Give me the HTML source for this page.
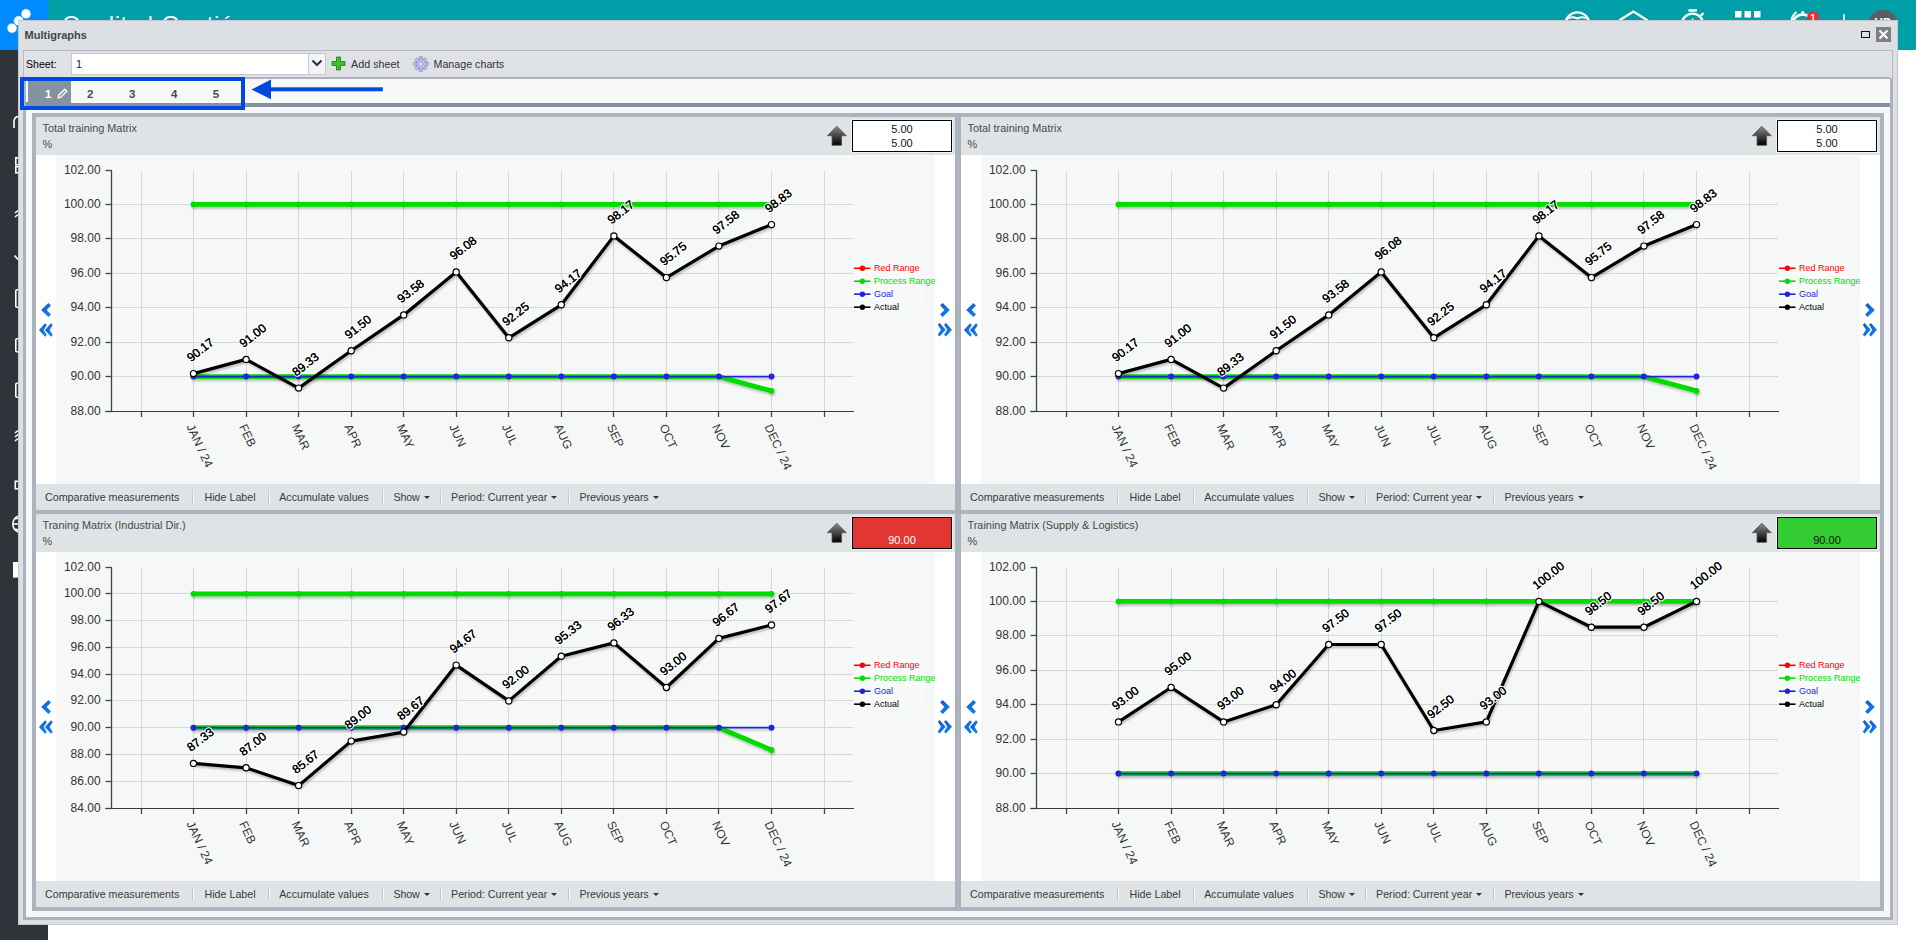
<!DOCTYPE html><html><head><meta charset="utf-8"><title>Multigraphs</title><style>
*{margin:0;padding:0;box-sizing:border-box}
html,body{width:1916px;height:940px;overflow:hidden;background:#fff;font-family:"Liberation Sans", sans-serif}
.abs{position:absolute}
.ct{position:absolute;font-size:10.9px;color:#484848;white-space:nowrap;line-height:13px}
.vbox{position:absolute;left:816px;top:3px;width:100px;height:32px;border:1px solid #000;font-size:11px;text-align:center;line-height:14px;padding-top:1px;box-shadow:0 0 0 1px #eef1f3}
.ft{position:absolute;top:373px;font-size:10.7px;color:#3a3a3a;white-space:nowrap;line-height:14px}
.fsep{position:absolute;top:373px;width:1px;height:14px;background:#c3c8cd;box-shadow:1px 0 0 #f4f5f6}
.car{display:inline-block;width:0;height:0;border-left:3px solid transparent;border-right:3px solid transparent;border-top:3px solid #333;margin-left:4px;vertical-align:2px}
svg text{font-family:"Liberation Sans", sans-serif}
</style></head><body>
<div class="abs" style="left:0;top:50px;width:48px;height:890px;background:#2f343b"></div>
<svg class="abs" style="left:0;top:0" width="48" height="940"><g fill="none" stroke="#fff" stroke-width="1.6">
<path d="M14,128 L14,121 Q14.5,116.5 19,116.5"/>
<rect x="15.8" y="157.8" width="5" height="7"/><rect x="15.8" y="166.8" width="5" height="6"/>
<path d="M15,213 L18,210.5 M15,217 L18,214.5"/>
<path d="M14.5,255.5 L18,259.5"/>
<rect x="15.8" y="289.8" width="5" height="17.5" rx="1"/>
<rect x="15.8" y="338.8" width="5" height="13" rx="1"/>
<rect x="15.8" y="383.3" width="5" height="14" rx="1"/>
<path d="M15,433 L18,430.5 M15,437 L18,434.5 M15,441 L18,438.5"/>
<rect x="15.3" y="481.3" width="5" height="7.5"/>
<circle cx="21.5" cy="524" r="8.7"/><path d="M12.8,524 L19,524 M15,518.5 L19,518.5 M15,529.5 L19,529.5"/>
</g><rect x="13" y="562" width="6" height="15.6" fill="#fff"/></svg>
<div class="abs" style="left:0;top:0;width:48px;height:50px;background:#008aff"></div>
<svg class="abs" style="left:0;top:0" width="48" height="50"><g fill="#fff" stroke="#008aff" stroke-width="0.8"><circle cx="26" cy="13.8" r="5.1"/><circle cx="18.7" cy="20.8" r="5.1"/><circle cx="12" cy="28.2" r="5.1"/></g></svg>
<div class="abs" style="left:48px;top:0;width:1868px;height:50px;background:#009ea6"></div>
<div class="abs" style="left:62px;top:11.3px;font-size:24px;color:#fff;white-space:nowrap;letter-spacing:0.5px">Quality | Gestión</div>
<svg class="abs" style="left:1550px;top:0" width="366" height="50">
<g fill="none" stroke="#fff" stroke-width="2.3">
<circle cx="27.4" cy="24.4" r="12"/>
<path d="M16,19.5 Q21,15.5 27.4,18.5 Q33.8,15.5 38.8,19.5" stroke-width="2"/>
<path d="M69.1,20.5 L83.4,11.6 L97.7,20.5"/>
<circle cx="142.5" cy="24.5" r="10.8"/>
<path d="M150.5,16 L153.5,13" />
</g>
<g fill="#fff"><rect x="138.4" y="9.2" width="8.6" height="2.5"/><rect x="141.8" y="18.5" width="1.6" height="3"/>
<rect x="185" y="11" width="6.5" height="6.5"/><rect x="194.5" y="11" width="6.5" height="6.5"/><rect x="204" y="11" width="6.5" height="6.5"/>
<rect x="293.2" y="14.2" width="1.6" height="7"/></g>
<path d="M241.5,21 A14,14 0 0 1 246.5,12" fill="none" stroke="#fff" stroke-width="2.2"/>
<circle cx="252.7" cy="24.5" r="10" fill="none" stroke="#fff" stroke-width="2.3"/>
<circle cx="252.7" cy="12.5" r="1.6" fill="#fff"/>
<circle cx="263" cy="17.4" r="6" fill="#ee2a2a"/><text x="263" y="21.5" font-size="10" fill="#fff" text-anchor="middle" font-family="Liberation Sans" font-weight="bold">1</text>
<circle cx="332.9" cy="24.5" r="14.6" fill="#5a5d63"/>
<text x="332.9" y="26.5" font-size="12" font-weight="bold" fill="#fff" text-anchor="middle" font-family="Liberation Sans">HD</text>
</svg>
<div class="abs" style="left:18px;top:20px;width:1880px;height:905px;background:#dcdfe3;border:1px solid #c4c8cd"></div>
<div class="abs" style="left:24.6px;top:29.2px;font-size:11px;font-weight:bold;color:#454545;white-space:nowrap">Multigraphs</div>
<div class="abs" style="left:1861px;top:31px;width:9px;height:7px;border:1.5px solid #111"></div>
<div class="abs" style="left:1876px;top:27px;width:15px;height:15px;background:#808080"></div>
<svg class="abs" style="left:1876px;top:27px" width="15" height="15"><path d="M3.5,3.5 L11.5,11.5 M11.5,3.5 L3.5,11.5" stroke="#fff" stroke-width="2.1"/></svg>
<div class="abs" style="left:23px;top:50px;width:1870px;height:870px;background:#dfe1e5;border:1px solid #b3b9c0"></div>
<div class="abs" style="left:26px;top:58px;font-size:10.6px;color:#000;white-space:nowrap">Sheet:</div>
<div class="abs" style="left:71px;top:53px;width:255px;height:22px;background:#fff;border:1px solid #c5c9ce"></div>
<div class="abs" style="left:76px;top:58px;font-size:11px;color:#222">1</div>
<div class="abs" style="left:308px;top:53px;width:18px;height:22px;background:#f3f4f5;border:1px solid #c5c9ce"></div>
<svg class="abs" style="left:310px;top:58px" width="14" height="10"><path d="M2.5,2.5 L7,7 L11.5,2.5" fill="none" stroke="#333" stroke-width="2.2"/></svg>
<svg class="abs" style="left:331px;top:56px" width="16" height="16"><path d="M5.5,1 h4 v4.5 h4.5 v4 h-4.5 v4.5 h-4 v-4.5 h-4.5 v-4 h4.5 z" fill="#3fbf2a" stroke="#1f8a17" stroke-width="0.9"/></svg>
<div class="abs" style="left:351px;top:58px;font-size:10.8px;color:#333;white-space:nowrap">Add sheet</div>
<svg class="abs" style="left:413px;top:56px" width="16" height="16"><g transform="translate(8,8)"><circle r="5.5" fill="#c0c4e8" stroke="#8890c8" stroke-width="1"/><rect x="-1.6" y="-7.3" width="3.2" height="3" fill="#b8bce4" stroke="#8890c8" stroke-width="0.6" transform="rotate(0)"/><rect x="-1.6" y="-7.3" width="3.2" height="3" fill="#b8bce4" stroke="#8890c8" stroke-width="0.6" transform="rotate(45)"/><rect x="-1.6" y="-7.3" width="3.2" height="3" fill="#b8bce4" stroke="#8890c8" stroke-width="0.6" transform="rotate(90)"/><rect x="-1.6" y="-7.3" width="3.2" height="3" fill="#b8bce4" stroke="#8890c8" stroke-width="0.6" transform="rotate(135)"/><rect x="-1.6" y="-7.3" width="3.2" height="3" fill="#b8bce4" stroke="#8890c8" stroke-width="0.6" transform="rotate(180)"/><rect x="-1.6" y="-7.3" width="3.2" height="3" fill="#b8bce4" stroke="#8890c8" stroke-width="0.6" transform="rotate(225)"/><rect x="-1.6" y="-7.3" width="3.2" height="3" fill="#b8bce4" stroke="#8890c8" stroke-width="0.6" transform="rotate(270)"/><rect x="-1.6" y="-7.3" width="3.2" height="3" fill="#b8bce4" stroke="#8890c8" stroke-width="0.6" transform="rotate(315)"/><circle r="2" fill="#eef" stroke="#8890c8" stroke-width="0.8"/></g></svg>
<div class="abs" style="left:433.5px;top:58px;font-size:10.7px;color:#333;white-space:nowrap">Manage charts</div>
<div class="abs" style="left:24px;top:77px;width:1866px;height:30px;background:#f7f8f8;border-top:2px solid #acb3bc;border-bottom:4px solid #8592a0"></div>
<div class="abs" style="left:24px;top:79px;width:47px;height:24px;background:#8593a1"></div>
<div class="abs" style="left:26px;top:81px;width:2px;height:21px;background:#fff"></div>
<div class="abs" style="left:45px;top:88px;font-size:11.5px;font-weight:bold;color:#fff">1</div>
<svg class="abs" style="left:57px;top:88px" width="11" height="11"><path d="M1.2,9.8 L1.8,7.2 L7.8,1.2 L9.8,3.2 L3.8,9.2 Z" fill="none" stroke="#fff" stroke-width="1.3"/></svg>
<div class="abs" style="left:86.9px;top:88px;font-size:11.5px;font-weight:bold;color:#4a4a4a">2</div>
<div class="abs" style="left:128.9px;top:88px;font-size:11.5px;font-weight:bold;color:#4a4a4a">3</div>
<div class="abs" style="left:170.9px;top:88px;font-size:11.5px;font-weight:bold;color:#4a4a4a">4</div>
<div class="abs" style="left:212.8px;top:88px;font-size:11.5px;font-weight:bold;color:#4a4a4a">5</div>
<div class="abs" style="left:24px;top:107px;width:1866px;height:810px;background:#f6f8f8"></div>
<div class="abs" style="left:23px;top:917px;width:1870px;height:3px;background:#acb3bc"></div>
<div class="abs" style="left:23px;top:78px;width:3px;height:842px;background:#acb3bc"></div>
<div class="abs" style="left:1890px;top:78px;width:3px;height:842px;background:#acb3bc"></div>
<div class="abs" style="left:32px;top:113px;width:1852px;height:798px;background:#acb3bc"></div>
<div class="abs" style="left:36px;top:117px;width:919px;height:393px;overflow:hidden">
<svg width="919" height="393" viewBox="0 0 919 393" style="position:absolute;left:0;top:0">
<defs><filter id="sh" x="-5%" y="-20%" width="110%" height="140%"><feGaussianBlur in="SourceAlpha" stdDeviation="1"/><feOffset dx="1" dy="1.5"/><feComponentTransfer><feFuncA type="linear" slope="0.25"/></feComponentTransfer><feMerge><feMergeNode/><feMergeNode in="SourceGraphic"/></feMerge></filter></defs>
<rect x="0" y="0" width="919" height="38" fill="#e0e3e6"/>
<rect x="0" y="38" width="919" height="329" fill="#ffffff"/>
<rect x="20" y="38" width="879" height="329" fill="#f6f8f8"/>
<rect x="0" y="367" width="919" height="26" fill="#e0e3e6"/>
<line x1="69.5" y1="294.5" x2="75.5" y2="294.5" stroke="#444" stroke-width="1.3"/>
<text x="64.6" y="297.9" text-anchor="end" font-size="12" fill="#333">88.00</text>
<line x1="75.5" y1="259.5" x2="817" y2="259.5" stroke="#d6d6d6" stroke-width="1"/>
<line x1="69.5" y1="259.5" x2="75.5" y2="259.5" stroke="#444" stroke-width="1.3"/>
<text x="64.6" y="262.9" text-anchor="end" font-size="12" fill="#333">90.00</text>
<line x1="75.5" y1="225.5" x2="817" y2="225.5" stroke="#d6d6d6" stroke-width="1"/>
<line x1="69.5" y1="225.5" x2="75.5" y2="225.5" stroke="#444" stroke-width="1.3"/>
<text x="64.6" y="228.9" text-anchor="end" font-size="12" fill="#333">92.00</text>
<line x1="75.5" y1="190.5" x2="817" y2="190.5" stroke="#d6d6d6" stroke-width="1"/>
<line x1="69.5" y1="190.5" x2="75.5" y2="190.5" stroke="#444" stroke-width="1.3"/>
<text x="64.6" y="193.9" text-anchor="end" font-size="12" fill="#333">94.00</text>
<line x1="75.5" y1="156.5" x2="817" y2="156.5" stroke="#d6d6d6" stroke-width="1"/>
<line x1="69.5" y1="156.5" x2="75.5" y2="156.5" stroke="#444" stroke-width="1.3"/>
<text x="64.6" y="159.9" text-anchor="end" font-size="12" fill="#333">96.00</text>
<line x1="75.5" y1="121.5" x2="817" y2="121.5" stroke="#d6d6d6" stroke-width="1"/>
<line x1="69.5" y1="121.5" x2="75.5" y2="121.5" stroke="#444" stroke-width="1.3"/>
<text x="64.6" y="124.9" text-anchor="end" font-size="12" fill="#333">98.00</text>
<line x1="75.5" y1="87.5" x2="817" y2="87.5" stroke="#d6d6d6" stroke-width="1"/>
<line x1="69.5" y1="87.5" x2="75.5" y2="87.5" stroke="#444" stroke-width="1.3"/>
<text x="64.6" y="90.9" text-anchor="end" font-size="12" fill="#333">100.00</text>
<line x1="69.5" y1="53.5" x2="75.5" y2="53.5" stroke="#444" stroke-width="1.3"/>
<text x="64.6" y="56.9" text-anchor="end" font-size="12" fill="#333">102.00</text>
<line x1="105.5" y1="54.0" x2="105.5" y2="294.0" stroke="#d6d6d6" stroke-width="1"/>
<line x1="105.5" y1="294.0" x2="105.5" y2="300.0" stroke="#444" stroke-width="1.3"/>
<line x1="157.5" y1="54.0" x2="157.5" y2="294.0" stroke="#d6d6d6" stroke-width="1"/>
<line x1="157.5" y1="294.0" x2="157.5" y2="300.0" stroke="#444" stroke-width="1.3"/>
<line x1="210.5" y1="54.0" x2="210.5" y2="294.0" stroke="#d6d6d6" stroke-width="1"/>
<line x1="210.5" y1="294.0" x2="210.5" y2="300.0" stroke="#444" stroke-width="1.3"/>
<line x1="262.5" y1="54.0" x2="262.5" y2="294.0" stroke="#d6d6d6" stroke-width="1"/>
<line x1="262.5" y1="294.0" x2="262.5" y2="300.0" stroke="#444" stroke-width="1.3"/>
<line x1="315.5" y1="54.0" x2="315.5" y2="294.0" stroke="#d6d6d6" stroke-width="1"/>
<line x1="315.5" y1="294.0" x2="315.5" y2="300.0" stroke="#444" stroke-width="1.3"/>
<line x1="367.5" y1="54.0" x2="367.5" y2="294.0" stroke="#d6d6d6" stroke-width="1"/>
<line x1="367.5" y1="294.0" x2="367.5" y2="300.0" stroke="#444" stroke-width="1.3"/>
<line x1="420.5" y1="54.0" x2="420.5" y2="294.0" stroke="#d6d6d6" stroke-width="1"/>
<line x1="420.5" y1="294.0" x2="420.5" y2="300.0" stroke="#444" stroke-width="1.3"/>
<line x1="472.5" y1="54.0" x2="472.5" y2="294.0" stroke="#d6d6d6" stroke-width="1"/>
<line x1="472.5" y1="294.0" x2="472.5" y2="300.0" stroke="#444" stroke-width="1.3"/>
<line x1="525.5" y1="54.0" x2="525.5" y2="294.0" stroke="#d6d6d6" stroke-width="1"/>
<line x1="525.5" y1="294.0" x2="525.5" y2="300.0" stroke="#444" stroke-width="1.3"/>
<line x1="577.5" y1="54.0" x2="577.5" y2="294.0" stroke="#d6d6d6" stroke-width="1"/>
<line x1="577.5" y1="294.0" x2="577.5" y2="300.0" stroke="#444" stroke-width="1.3"/>
<line x1="630.5" y1="54.0" x2="630.5" y2="294.0" stroke="#d6d6d6" stroke-width="1"/>
<line x1="630.5" y1="294.0" x2="630.5" y2="300.0" stroke="#444" stroke-width="1.3"/>
<line x1="682.5" y1="54.0" x2="682.5" y2="294.0" stroke="#d6d6d6" stroke-width="1"/>
<line x1="682.5" y1="294.0" x2="682.5" y2="300.0" stroke="#444" stroke-width="1.3"/>
<line x1="735.5" y1="54.0" x2="735.5" y2="294.0" stroke="#d6d6d6" stroke-width="1"/>
<line x1="735.5" y1="294.0" x2="735.5" y2="300.0" stroke="#444" stroke-width="1.3"/>
<line x1="788.5" y1="54.0" x2="788.5" y2="294.0" stroke="#d6d6d6" stroke-width="1"/>
<line x1="788.5" y1="294.0" x2="788.5" y2="300.0" stroke="#444" stroke-width="1.3"/>
<line x1="75.5" y1="53.0" x2="75.5" y2="294.5" stroke="#444" stroke-width="1.3"/>
<line x1="69.5" y1="294.5" x2="818" y2="294.5" stroke="#3a3a3a" stroke-width="1.2"/>
<text transform="translate(150.3,309.6) rotate(65)" font-size="12" fill="#333">JAN / 24</text>
<text transform="translate(202.9,309.6) rotate(65)" font-size="12" fill="#333">FEB</text>
<text transform="translate(255.4,309.6) rotate(65)" font-size="12" fill="#333">MAR</text>
<text transform="translate(308.0,309.6) rotate(65)" font-size="12" fill="#333">APR</text>
<text transform="translate(360.5,309.6) rotate(65)" font-size="12" fill="#333">MAY</text>
<text transform="translate(413.0,309.6) rotate(65)" font-size="12" fill="#333">JUN</text>
<text transform="translate(465.6,309.6) rotate(65)" font-size="12" fill="#333">JUL</text>
<text transform="translate(518.1,309.6) rotate(65)" font-size="12" fill="#333">AUG</text>
<text transform="translate(570.7,309.6) rotate(65)" font-size="12" fill="#333">SEP</text>
<text transform="translate(623.2,309.6) rotate(65)" font-size="12" fill="#333">OCT</text>
<text transform="translate(675.7,309.6) rotate(65)" font-size="12" fill="#333">NOV</text>
<text transform="translate(728.3,309.6) rotate(65)" font-size="12" fill="#333">DEC / 24</text>
<g filter="url(#sh)">
<path d="M157.5,87.4 L210.1,87.4 L262.6,87.4 L315.2,87.4 L367.7,87.4 L420.2,87.4 L472.8,87.4 L525.3,87.4 L577.9,87.4 L630.4,87.4 L682.9,87.4 L735.5,87.4" fill="none" stroke="#00dc00" stroke-width="4.8" stroke-linecap="round" stroke-linejoin="round"/>
<path d="M157.5,259.6 L210.1,259.6 L262.6,259.6 L315.2,259.6 L367.7,259.6 L420.2,259.6 L472.8,259.6 L525.3,259.6 L577.9,259.6 L630.4,259.6 L682.9,259.6 L735.5,273.9" fill="none" stroke="#00dc00" stroke-width="4.8" stroke-linecap="round" stroke-linejoin="round"/>
<path d="M157.5,259.6 L210.1,259.6 L262.6,259.6 L315.2,259.6 L367.7,259.6 L420.2,259.6 L472.8,259.6 L525.3,259.6 L577.9,259.6 L630.4,259.6 L682.9,259.6 L735.5,259.6" fill="none" stroke="#2323dd" stroke-width="1.7" stroke-linejoin="round"/>
<circle cx="157.5" cy="87.4" r="2.9" fill="#00dc00"/>
<circle cx="210.1" cy="87.4" r="2.9" fill="#00dc00"/>
<circle cx="262.6" cy="87.4" r="2.9" fill="#00dc00"/>
<circle cx="315.2" cy="87.4" r="2.9" fill="#00dc00"/>
<circle cx="367.7" cy="87.4" r="2.9" fill="#00dc00"/>
<circle cx="420.2" cy="87.4" r="2.9" fill="#00dc00"/>
<circle cx="472.8" cy="87.4" r="2.9" fill="#00dc00"/>
<circle cx="525.3" cy="87.4" r="2.9" fill="#00dc00"/>
<circle cx="577.9" cy="87.4" r="2.9" fill="#00dc00"/>
<circle cx="630.4" cy="87.4" r="2.9" fill="#00dc00"/>
<circle cx="682.9" cy="87.4" r="2.9" fill="#00dc00"/>
<circle cx="735.5" cy="87.4" r="2.9" fill="#00dc00"/>
<circle cx="157.5" cy="259.6" r="2.9" fill="#00dc00"/>
<circle cx="210.1" cy="259.6" r="2.9" fill="#00dc00"/>
<circle cx="262.6" cy="259.6" r="2.9" fill="#00dc00"/>
<circle cx="315.2" cy="259.6" r="2.9" fill="#00dc00"/>
<circle cx="367.7" cy="259.6" r="2.9" fill="#00dc00"/>
<circle cx="420.2" cy="259.6" r="2.9" fill="#00dc00"/>
<circle cx="472.8" cy="259.6" r="2.9" fill="#00dc00"/>
<circle cx="525.3" cy="259.6" r="2.9" fill="#00dc00"/>
<circle cx="577.9" cy="259.6" r="2.9" fill="#00dc00"/>
<circle cx="630.4" cy="259.6" r="2.9" fill="#00dc00"/>
<circle cx="682.9" cy="259.6" r="2.9" fill="#00dc00"/>
<circle cx="735.5" cy="273.9" r="2.9" fill="#00dc00"/>
</g>
<circle cx="157.5" cy="259.6" r="3" fill="#2323dd"/>
<circle cx="210.1" cy="259.6" r="3" fill="#2323dd"/>
<circle cx="262.6" cy="259.6" r="3" fill="#2323dd"/>
<circle cx="315.2" cy="259.6" r="3" fill="#2323dd"/>
<circle cx="367.7" cy="259.6" r="3" fill="#2323dd"/>
<circle cx="420.2" cy="259.6" r="3" fill="#2323dd"/>
<circle cx="472.8" cy="259.6" r="3" fill="#2323dd"/>
<circle cx="525.3" cy="259.6" r="3" fill="#2323dd"/>
<circle cx="577.9" cy="259.6" r="3" fill="#2323dd"/>
<circle cx="630.4" cy="259.6" r="3" fill="#2323dd"/>
<circle cx="682.9" cy="259.6" r="3" fill="#2323dd"/>
<circle cx="735.5" cy="259.6" r="3" fill="#2323dd"/>
<path d="M157.5,256.6 L210.1,242.4 L262.6,271.1 L315.2,233.8 L367.7,197.9 L420.2,154.9 L472.8,220.8 L525.3,187.8 L577.9,118.9 L630.4,160.6 L682.9,129.1 L735.5,107.6" fill="none" stroke="#000" stroke-width="3.2" stroke-linejoin="round" filter="url(#sh)"/>
<circle cx="157.5" cy="256.6" r="3.1" fill="#fff" stroke="#000" stroke-width="1.2"/>
<circle cx="210.1" cy="242.4" r="3.1" fill="#fff" stroke="#000" stroke-width="1.2"/>
<circle cx="262.6" cy="271.1" r="3.1" fill="#fff" stroke="#000" stroke-width="1.2"/>
<circle cx="315.2" cy="233.8" r="3.1" fill="#fff" stroke="#000" stroke-width="1.2"/>
<circle cx="367.7" cy="197.9" r="3.1" fill="#fff" stroke="#000" stroke-width="1.2"/>
<circle cx="420.2" cy="154.9" r="3.1" fill="#fff" stroke="#000" stroke-width="1.2"/>
<circle cx="472.8" cy="220.8" r="3.1" fill="#fff" stroke="#000" stroke-width="1.2"/>
<circle cx="525.3" cy="187.8" r="3.1" fill="#fff" stroke="#000" stroke-width="1.2"/>
<circle cx="577.9" cy="118.9" r="3.1" fill="#fff" stroke="#000" stroke-width="1.2"/>
<circle cx="630.4" cy="160.6" r="3.1" fill="#fff" stroke="#000" stroke-width="1.2"/>
<circle cx="682.9" cy="129.1" r="3.1" fill="#fff" stroke="#000" stroke-width="1.2"/>
<circle cx="735.5" cy="107.6" r="3.1" fill="#fff" stroke="#000" stroke-width="1.2"/>
<text transform="translate(152.41,241.89) rotate(-38)" dy="0.36em" font-size="12" fill="#000" stroke="#fff" stroke-width="2.4" paint-order="stroke" stroke-linejoin="round">90.17</text>
<text transform="translate(152.41,241.89) rotate(-38)" dy="0.36em" font-size="12" fill="#000" stroke="#000" stroke-width="0.12">90.17</text>
<text transform="translate(204.95,227.60) rotate(-38)" dy="0.36em" font-size="12" fill="#000" stroke="#fff" stroke-width="2.4" paint-order="stroke" stroke-linejoin="round">91.00</text>
<text transform="translate(204.95,227.60) rotate(-38)" dy="0.36em" font-size="12" fill="#000" stroke="#000" stroke-width="0.12">91.00</text>
<text transform="translate(257.49,256.35) rotate(-38)" dy="0.36em" font-size="12" fill="#000" stroke="#fff" stroke-width="2.4" paint-order="stroke" stroke-linejoin="round">89.33</text>
<text transform="translate(257.49,256.35) rotate(-38)" dy="0.36em" font-size="12" fill="#000" stroke="#000" stroke-width="0.12">89.33</text>
<text transform="translate(310.03,218.99) rotate(-38)" dy="0.36em" font-size="12" fill="#000" stroke="#fff" stroke-width="2.4" paint-order="stroke" stroke-linejoin="round">91.50</text>
<text transform="translate(310.03,218.99) rotate(-38)" dy="0.36em" font-size="12" fill="#000" stroke="#000" stroke-width="0.12">91.50</text>
<text transform="translate(362.57,183.19) rotate(-38)" dy="0.36em" font-size="12" fill="#000" stroke="#fff" stroke-width="2.4" paint-order="stroke" stroke-linejoin="round">93.58</text>
<text transform="translate(362.57,183.19) rotate(-38)" dy="0.36em" font-size="12" fill="#000" stroke="#000" stroke-width="0.12">93.58</text>
<text transform="translate(415.11,140.15) rotate(-38)" dy="0.36em" font-size="12" fill="#000" stroke="#fff" stroke-width="2.4" paint-order="stroke" stroke-linejoin="round">96.08</text>
<text transform="translate(415.11,140.15) rotate(-38)" dy="0.36em" font-size="12" fill="#000" stroke="#000" stroke-width="0.12">96.08</text>
<text transform="translate(467.65,206.08) rotate(-38)" dy="0.36em" font-size="12" fill="#000" stroke="#fff" stroke-width="2.4" paint-order="stroke" stroke-linejoin="round">92.25</text>
<text transform="translate(467.65,206.08) rotate(-38)" dy="0.36em" font-size="12" fill="#000" stroke="#000" stroke-width="0.12">92.25</text>
<text transform="translate(520.19,173.03) rotate(-38)" dy="0.36em" font-size="12" fill="#000" stroke="#fff" stroke-width="2.4" paint-order="stroke" stroke-linejoin="round">94.17</text>
<text transform="translate(520.19,173.03) rotate(-38)" dy="0.36em" font-size="12" fill="#000" stroke="#000" stroke-width="0.12">94.17</text>
<text transform="translate(572.73,104.17) rotate(-38)" dy="0.36em" font-size="12" fill="#000" stroke="#fff" stroke-width="2.4" paint-order="stroke" stroke-linejoin="round">98.17</text>
<text transform="translate(572.73,104.17) rotate(-38)" dy="0.36em" font-size="12" fill="#000" stroke="#000" stroke-width="0.12">98.17</text>
<text transform="translate(625.27,145.83) rotate(-38)" dy="0.36em" font-size="12" fill="#000" stroke="#fff" stroke-width="2.4" paint-order="stroke" stroke-linejoin="round">95.75</text>
<text transform="translate(625.27,145.83) rotate(-38)" dy="0.36em" font-size="12" fill="#000" stroke="#000" stroke-width="0.12">95.75</text>
<text transform="translate(677.81,114.33) rotate(-38)" dy="0.36em" font-size="12" fill="#000" stroke="#fff" stroke-width="2.4" paint-order="stroke" stroke-linejoin="round">97.58</text>
<text transform="translate(677.81,114.33) rotate(-38)" dy="0.36em" font-size="12" fill="#000" stroke="#000" stroke-width="0.12">97.58</text>
<text transform="translate(730.35,92.81) rotate(-38)" dy="0.36em" font-size="12" fill="#000" stroke="#fff" stroke-width="2.4" paint-order="stroke" stroke-linejoin="round">98.83</text>
<text transform="translate(730.35,92.81) rotate(-38)" dy="0.36em" font-size="12" fill="#000" stroke="#000" stroke-width="0.12">98.83</text>
<rect x="817" y="143.4" width="71.7" height="51.4" fill="#ffffff" fill-opacity="0.25"/>
<line x1="818" y1="151.3" x2="834.5" y2="151.3" stroke="#ff0000" stroke-width="1.6"/>
<circle cx="826.4" cy="151.3" r="2.7" fill="#ff0000"/>
<text x="838" y="153.9" font-size="9" fill="#ff0000">Red Range</text>
<line x1="818" y1="164.2" x2="834.5" y2="164.2" stroke="#00dd00" stroke-width="1.6"/>
<circle cx="826.4" cy="164.2" r="2.7" fill="#00dd00"/>
<text x="838" y="166.8" font-size="9" fill="#00dd00">Process Range</text>
<line x1="818" y1="177.2" x2="834.5" y2="177.2" stroke="#2222dd" stroke-width="1.6"/>
<circle cx="826.4" cy="177.2" r="2.7" fill="#2222dd"/>
<text x="838" y="179.8" font-size="9" fill="#2222dd">Goal</text>
<line x1="818" y1="190.2" x2="834.5" y2="190.2" stroke="#000000" stroke-width="1.6"/>
<circle cx="826.4" cy="190.2" r="2.7" fill="#000000"/>
<text x="838" y="192.8" font-size="9" fill="#000000">Actual</text>
<rect x="899" y="38" width="20" height="329" fill="#ffffff"/>
<defs><linearGradient id="navg" x1="0" y1="0" x2="1" y2="1"><stop offset="0" stop-color="#1a55c4"/><stop offset="1" stop-color="#0a8cff"/></linearGradient></defs>
<polygon points="5.20,193.00 12.40,186.00 15.00,188.40 10.70,193.00 15.00,197.60 12.40,200.00" fill="url(#navg)"/>
<polygon points="3.00,213.00 9.10,206.20 10.90,208.00 7.70,213.00 10.90,218.00 9.10,219.80" fill="url(#navg)"/>
<polygon points="8.90,213.00 15.00,206.20 16.80,208.00 13.60,213.00 16.80,218.00 15.00,219.80" fill="url(#navg)"/>
<polygon points="913.90,192.90 906.70,185.90 904.10,188.30 908.40,192.90 904.10,197.50 906.70,199.90" fill="url(#navg)"/>
<polygon points="909.70,212.80 903.60,206.00 901.80,207.80 905.00,212.80 901.80,217.80 903.60,219.60" fill="url(#navg)"/>
<polygon points="916.00,212.80 909.90,206.00 908.10,207.80 911.30,212.80 908.10,217.80 909.90,219.60" fill="url(#navg)"/>
</svg>
<div class="ct" style="left:6.5px;top:5px">Total training Matrix</div>
<div class="ct" style="left:6.5px;top:21px">%</div>
<svg class="uparr" width="22" height="22" viewBox="0 0 22 22" style="position:absolute;left:790px;top:8px"><defs><linearGradient id="ag" x1="0" y1="0" x2="0" y2="1"><stop offset="0" stop-color="#8a8a8a"/><stop offset="1" stop-color="#000"/></linearGradient></defs><path d="M10.8,1.2 L20.3,10.7 L15.6,10.7 L15.6,20.3 L6,20.3 L6,10.7 L1.3,10.7 Z" fill="url(#ag)" stroke="#555" stroke-width="0.8"/></svg>
<div class="vbox" style="background:#fff;color:#111"><div>5.00</div><div>5.00</div></div>
<div class="ft" style="left:9px;letter-spacing:0px">Comparative measurements</div>
<div class="fsep" style="left:156.3px"></div>
<div class="ft" style="left:168.5px;letter-spacing:0px">Hide Label</div>
<div class="fsep" style="left:231.5px"></div>
<div class="ft" style="left:243.2px;letter-spacing:0px">Accumulate values</div>
<div class="fsep" style="left:345.7px"></div>
<div class="ft" style="left:357.4px;letter-spacing:-0.1px">Show<span class=car></span></div>
<div class="fsep" style="left:403.8px"></div>
<div class="ft" style="left:415px;letter-spacing:0px">Period: Current year<span class=car></span></div>
<div class="fsep" style="left:531.9px"></div>
<div class="ft" style="left:543.6px;letter-spacing:-0.12px">Previous years<span class=car></span></div>
</div>
<div class="abs" style="left:961px;top:117px;width:919px;height:393px;overflow:hidden">
<svg width="919" height="393" viewBox="0 0 919 393" style="position:absolute;left:0;top:0">
<defs><filter id="sh" x="-5%" y="-20%" width="110%" height="140%"><feGaussianBlur in="SourceAlpha" stdDeviation="1"/><feOffset dx="1" dy="1.5"/><feComponentTransfer><feFuncA type="linear" slope="0.25"/></feComponentTransfer><feMerge><feMergeNode/><feMergeNode in="SourceGraphic"/></feMerge></filter></defs>
<rect x="0" y="0" width="919" height="38" fill="#e0e3e6"/>
<rect x="0" y="38" width="919" height="329" fill="#ffffff"/>
<rect x="20" y="38" width="879" height="329" fill="#f6f8f8"/>
<rect x="0" y="367" width="919" height="26" fill="#e0e3e6"/>
<line x1="69.5" y1="294.5" x2="75.5" y2="294.5" stroke="#444" stroke-width="1.3"/>
<text x="64.6" y="297.9" text-anchor="end" font-size="12" fill="#333">88.00</text>
<line x1="75.5" y1="259.5" x2="817" y2="259.5" stroke="#d6d6d6" stroke-width="1"/>
<line x1="69.5" y1="259.5" x2="75.5" y2="259.5" stroke="#444" stroke-width="1.3"/>
<text x="64.6" y="262.9" text-anchor="end" font-size="12" fill="#333">90.00</text>
<line x1="75.5" y1="225.5" x2="817" y2="225.5" stroke="#d6d6d6" stroke-width="1"/>
<line x1="69.5" y1="225.5" x2="75.5" y2="225.5" stroke="#444" stroke-width="1.3"/>
<text x="64.6" y="228.9" text-anchor="end" font-size="12" fill="#333">92.00</text>
<line x1="75.5" y1="190.5" x2="817" y2="190.5" stroke="#d6d6d6" stroke-width="1"/>
<line x1="69.5" y1="190.5" x2="75.5" y2="190.5" stroke="#444" stroke-width="1.3"/>
<text x="64.6" y="193.9" text-anchor="end" font-size="12" fill="#333">94.00</text>
<line x1="75.5" y1="156.5" x2="817" y2="156.5" stroke="#d6d6d6" stroke-width="1"/>
<line x1="69.5" y1="156.5" x2="75.5" y2="156.5" stroke="#444" stroke-width="1.3"/>
<text x="64.6" y="159.9" text-anchor="end" font-size="12" fill="#333">96.00</text>
<line x1="75.5" y1="121.5" x2="817" y2="121.5" stroke="#d6d6d6" stroke-width="1"/>
<line x1="69.5" y1="121.5" x2="75.5" y2="121.5" stroke="#444" stroke-width="1.3"/>
<text x="64.6" y="124.9" text-anchor="end" font-size="12" fill="#333">98.00</text>
<line x1="75.5" y1="87.5" x2="817" y2="87.5" stroke="#d6d6d6" stroke-width="1"/>
<line x1="69.5" y1="87.5" x2="75.5" y2="87.5" stroke="#444" stroke-width="1.3"/>
<text x="64.6" y="90.9" text-anchor="end" font-size="12" fill="#333">100.00</text>
<line x1="69.5" y1="53.5" x2="75.5" y2="53.5" stroke="#444" stroke-width="1.3"/>
<text x="64.6" y="56.9" text-anchor="end" font-size="12" fill="#333">102.00</text>
<line x1="105.5" y1="54.0" x2="105.5" y2="294.0" stroke="#d6d6d6" stroke-width="1"/>
<line x1="105.5" y1="294.0" x2="105.5" y2="300.0" stroke="#444" stroke-width="1.3"/>
<line x1="157.5" y1="54.0" x2="157.5" y2="294.0" stroke="#d6d6d6" stroke-width="1"/>
<line x1="157.5" y1="294.0" x2="157.5" y2="300.0" stroke="#444" stroke-width="1.3"/>
<line x1="210.5" y1="54.0" x2="210.5" y2="294.0" stroke="#d6d6d6" stroke-width="1"/>
<line x1="210.5" y1="294.0" x2="210.5" y2="300.0" stroke="#444" stroke-width="1.3"/>
<line x1="262.5" y1="54.0" x2="262.5" y2="294.0" stroke="#d6d6d6" stroke-width="1"/>
<line x1="262.5" y1="294.0" x2="262.5" y2="300.0" stroke="#444" stroke-width="1.3"/>
<line x1="315.5" y1="54.0" x2="315.5" y2="294.0" stroke="#d6d6d6" stroke-width="1"/>
<line x1="315.5" y1="294.0" x2="315.5" y2="300.0" stroke="#444" stroke-width="1.3"/>
<line x1="367.5" y1="54.0" x2="367.5" y2="294.0" stroke="#d6d6d6" stroke-width="1"/>
<line x1="367.5" y1="294.0" x2="367.5" y2="300.0" stroke="#444" stroke-width="1.3"/>
<line x1="420.5" y1="54.0" x2="420.5" y2="294.0" stroke="#d6d6d6" stroke-width="1"/>
<line x1="420.5" y1="294.0" x2="420.5" y2="300.0" stroke="#444" stroke-width="1.3"/>
<line x1="472.5" y1="54.0" x2="472.5" y2="294.0" stroke="#d6d6d6" stroke-width="1"/>
<line x1="472.5" y1="294.0" x2="472.5" y2="300.0" stroke="#444" stroke-width="1.3"/>
<line x1="525.5" y1="54.0" x2="525.5" y2="294.0" stroke="#d6d6d6" stroke-width="1"/>
<line x1="525.5" y1="294.0" x2="525.5" y2="300.0" stroke="#444" stroke-width="1.3"/>
<line x1="577.5" y1="54.0" x2="577.5" y2="294.0" stroke="#d6d6d6" stroke-width="1"/>
<line x1="577.5" y1="294.0" x2="577.5" y2="300.0" stroke="#444" stroke-width="1.3"/>
<line x1="630.5" y1="54.0" x2="630.5" y2="294.0" stroke="#d6d6d6" stroke-width="1"/>
<line x1="630.5" y1="294.0" x2="630.5" y2="300.0" stroke="#444" stroke-width="1.3"/>
<line x1="682.5" y1="54.0" x2="682.5" y2="294.0" stroke="#d6d6d6" stroke-width="1"/>
<line x1="682.5" y1="294.0" x2="682.5" y2="300.0" stroke="#444" stroke-width="1.3"/>
<line x1="735.5" y1="54.0" x2="735.5" y2="294.0" stroke="#d6d6d6" stroke-width="1"/>
<line x1="735.5" y1="294.0" x2="735.5" y2="300.0" stroke="#444" stroke-width="1.3"/>
<line x1="788.5" y1="54.0" x2="788.5" y2="294.0" stroke="#d6d6d6" stroke-width="1"/>
<line x1="788.5" y1="294.0" x2="788.5" y2="300.0" stroke="#444" stroke-width="1.3"/>
<line x1="75.5" y1="53.0" x2="75.5" y2="294.5" stroke="#444" stroke-width="1.3"/>
<line x1="69.5" y1="294.5" x2="818" y2="294.5" stroke="#3a3a3a" stroke-width="1.2"/>
<text transform="translate(150.3,309.6) rotate(65)" font-size="12" fill="#333">JAN / 24</text>
<text transform="translate(202.9,309.6) rotate(65)" font-size="12" fill="#333">FEB</text>
<text transform="translate(255.4,309.6) rotate(65)" font-size="12" fill="#333">MAR</text>
<text transform="translate(308.0,309.6) rotate(65)" font-size="12" fill="#333">APR</text>
<text transform="translate(360.5,309.6) rotate(65)" font-size="12" fill="#333">MAY</text>
<text transform="translate(413.0,309.6) rotate(65)" font-size="12" fill="#333">JUN</text>
<text transform="translate(465.6,309.6) rotate(65)" font-size="12" fill="#333">JUL</text>
<text transform="translate(518.1,309.6) rotate(65)" font-size="12" fill="#333">AUG</text>
<text transform="translate(570.7,309.6) rotate(65)" font-size="12" fill="#333">SEP</text>
<text transform="translate(623.2,309.6) rotate(65)" font-size="12" fill="#333">OCT</text>
<text transform="translate(675.7,309.6) rotate(65)" font-size="12" fill="#333">NOV</text>
<text transform="translate(728.3,309.6) rotate(65)" font-size="12" fill="#333">DEC / 24</text>
<g filter="url(#sh)">
<path d="M157.5,87.4 L210.1,87.4 L262.6,87.4 L315.2,87.4 L367.7,87.4 L420.2,87.4 L472.8,87.4 L525.3,87.4 L577.9,87.4 L630.4,87.4 L682.9,87.4 L735.5,87.4" fill="none" stroke="#00dc00" stroke-width="4.8" stroke-linecap="round" stroke-linejoin="round"/>
<path d="M157.5,259.6 L210.1,259.6 L262.6,259.6 L315.2,259.6 L367.7,259.6 L420.2,259.6 L472.8,259.6 L525.3,259.6 L577.9,259.6 L630.4,259.6 L682.9,259.6 L735.5,273.9" fill="none" stroke="#00dc00" stroke-width="4.8" stroke-linecap="round" stroke-linejoin="round"/>
<path d="M157.5,259.6 L210.1,259.6 L262.6,259.6 L315.2,259.6 L367.7,259.6 L420.2,259.6 L472.8,259.6 L525.3,259.6 L577.9,259.6 L630.4,259.6 L682.9,259.6 L735.5,259.6" fill="none" stroke="#2323dd" stroke-width="1.7" stroke-linejoin="round"/>
<circle cx="157.5" cy="87.4" r="2.9" fill="#00dc00"/>
<circle cx="210.1" cy="87.4" r="2.9" fill="#00dc00"/>
<circle cx="262.6" cy="87.4" r="2.9" fill="#00dc00"/>
<circle cx="315.2" cy="87.4" r="2.9" fill="#00dc00"/>
<circle cx="367.7" cy="87.4" r="2.9" fill="#00dc00"/>
<circle cx="420.2" cy="87.4" r="2.9" fill="#00dc00"/>
<circle cx="472.8" cy="87.4" r="2.9" fill="#00dc00"/>
<circle cx="525.3" cy="87.4" r="2.9" fill="#00dc00"/>
<circle cx="577.9" cy="87.4" r="2.9" fill="#00dc00"/>
<circle cx="630.4" cy="87.4" r="2.9" fill="#00dc00"/>
<circle cx="682.9" cy="87.4" r="2.9" fill="#00dc00"/>
<circle cx="735.5" cy="87.4" r="2.9" fill="#00dc00"/>
<circle cx="157.5" cy="259.6" r="2.9" fill="#00dc00"/>
<circle cx="210.1" cy="259.6" r="2.9" fill="#00dc00"/>
<circle cx="262.6" cy="259.6" r="2.9" fill="#00dc00"/>
<circle cx="315.2" cy="259.6" r="2.9" fill="#00dc00"/>
<circle cx="367.7" cy="259.6" r="2.9" fill="#00dc00"/>
<circle cx="420.2" cy="259.6" r="2.9" fill="#00dc00"/>
<circle cx="472.8" cy="259.6" r="2.9" fill="#00dc00"/>
<circle cx="525.3" cy="259.6" r="2.9" fill="#00dc00"/>
<circle cx="577.9" cy="259.6" r="2.9" fill="#00dc00"/>
<circle cx="630.4" cy="259.6" r="2.9" fill="#00dc00"/>
<circle cx="682.9" cy="259.6" r="2.9" fill="#00dc00"/>
<circle cx="735.5" cy="273.9" r="2.9" fill="#00dc00"/>
</g>
<circle cx="157.5" cy="259.6" r="3" fill="#2323dd"/>
<circle cx="210.1" cy="259.6" r="3" fill="#2323dd"/>
<circle cx="262.6" cy="259.6" r="3" fill="#2323dd"/>
<circle cx="315.2" cy="259.6" r="3" fill="#2323dd"/>
<circle cx="367.7" cy="259.6" r="3" fill="#2323dd"/>
<circle cx="420.2" cy="259.6" r="3" fill="#2323dd"/>
<circle cx="472.8" cy="259.6" r="3" fill="#2323dd"/>
<circle cx="525.3" cy="259.6" r="3" fill="#2323dd"/>
<circle cx="577.9" cy="259.6" r="3" fill="#2323dd"/>
<circle cx="630.4" cy="259.6" r="3" fill="#2323dd"/>
<circle cx="682.9" cy="259.6" r="3" fill="#2323dd"/>
<circle cx="735.5" cy="259.6" r="3" fill="#2323dd"/>
<path d="M157.5,256.6 L210.1,242.4 L262.6,271.1 L315.2,233.8 L367.7,197.9 L420.2,154.9 L472.8,220.8 L525.3,187.8 L577.9,118.9 L630.4,160.6 L682.9,129.1 L735.5,107.6" fill="none" stroke="#000" stroke-width="3.2" stroke-linejoin="round" filter="url(#sh)"/>
<circle cx="157.5" cy="256.6" r="3.1" fill="#fff" stroke="#000" stroke-width="1.2"/>
<circle cx="210.1" cy="242.4" r="3.1" fill="#fff" stroke="#000" stroke-width="1.2"/>
<circle cx="262.6" cy="271.1" r="3.1" fill="#fff" stroke="#000" stroke-width="1.2"/>
<circle cx="315.2" cy="233.8" r="3.1" fill="#fff" stroke="#000" stroke-width="1.2"/>
<circle cx="367.7" cy="197.9" r="3.1" fill="#fff" stroke="#000" stroke-width="1.2"/>
<circle cx="420.2" cy="154.9" r="3.1" fill="#fff" stroke="#000" stroke-width="1.2"/>
<circle cx="472.8" cy="220.8" r="3.1" fill="#fff" stroke="#000" stroke-width="1.2"/>
<circle cx="525.3" cy="187.8" r="3.1" fill="#fff" stroke="#000" stroke-width="1.2"/>
<circle cx="577.9" cy="118.9" r="3.1" fill="#fff" stroke="#000" stroke-width="1.2"/>
<circle cx="630.4" cy="160.6" r="3.1" fill="#fff" stroke="#000" stroke-width="1.2"/>
<circle cx="682.9" cy="129.1" r="3.1" fill="#fff" stroke="#000" stroke-width="1.2"/>
<circle cx="735.5" cy="107.6" r="3.1" fill="#fff" stroke="#000" stroke-width="1.2"/>
<text transform="translate(152.41,241.89) rotate(-38)" dy="0.36em" font-size="12" fill="#000" stroke="#fff" stroke-width="2.4" paint-order="stroke" stroke-linejoin="round">90.17</text>
<text transform="translate(152.41,241.89) rotate(-38)" dy="0.36em" font-size="12" fill="#000" stroke="#000" stroke-width="0.12">90.17</text>
<text transform="translate(204.95,227.60) rotate(-38)" dy="0.36em" font-size="12" fill="#000" stroke="#fff" stroke-width="2.4" paint-order="stroke" stroke-linejoin="round">91.00</text>
<text transform="translate(204.95,227.60) rotate(-38)" dy="0.36em" font-size="12" fill="#000" stroke="#000" stroke-width="0.12">91.00</text>
<text transform="translate(257.49,256.35) rotate(-38)" dy="0.36em" font-size="12" fill="#000" stroke="#fff" stroke-width="2.4" paint-order="stroke" stroke-linejoin="round">89.33</text>
<text transform="translate(257.49,256.35) rotate(-38)" dy="0.36em" font-size="12" fill="#000" stroke="#000" stroke-width="0.12">89.33</text>
<text transform="translate(310.03,218.99) rotate(-38)" dy="0.36em" font-size="12" fill="#000" stroke="#fff" stroke-width="2.4" paint-order="stroke" stroke-linejoin="round">91.50</text>
<text transform="translate(310.03,218.99) rotate(-38)" dy="0.36em" font-size="12" fill="#000" stroke="#000" stroke-width="0.12">91.50</text>
<text transform="translate(362.57,183.19) rotate(-38)" dy="0.36em" font-size="12" fill="#000" stroke="#fff" stroke-width="2.4" paint-order="stroke" stroke-linejoin="round">93.58</text>
<text transform="translate(362.57,183.19) rotate(-38)" dy="0.36em" font-size="12" fill="#000" stroke="#000" stroke-width="0.12">93.58</text>
<text transform="translate(415.11,140.15) rotate(-38)" dy="0.36em" font-size="12" fill="#000" stroke="#fff" stroke-width="2.4" paint-order="stroke" stroke-linejoin="round">96.08</text>
<text transform="translate(415.11,140.15) rotate(-38)" dy="0.36em" font-size="12" fill="#000" stroke="#000" stroke-width="0.12">96.08</text>
<text transform="translate(467.65,206.08) rotate(-38)" dy="0.36em" font-size="12" fill="#000" stroke="#fff" stroke-width="2.4" paint-order="stroke" stroke-linejoin="round">92.25</text>
<text transform="translate(467.65,206.08) rotate(-38)" dy="0.36em" font-size="12" fill="#000" stroke="#000" stroke-width="0.12">92.25</text>
<text transform="translate(520.19,173.03) rotate(-38)" dy="0.36em" font-size="12" fill="#000" stroke="#fff" stroke-width="2.4" paint-order="stroke" stroke-linejoin="round">94.17</text>
<text transform="translate(520.19,173.03) rotate(-38)" dy="0.36em" font-size="12" fill="#000" stroke="#000" stroke-width="0.12">94.17</text>
<text transform="translate(572.73,104.17) rotate(-38)" dy="0.36em" font-size="12" fill="#000" stroke="#fff" stroke-width="2.4" paint-order="stroke" stroke-linejoin="round">98.17</text>
<text transform="translate(572.73,104.17) rotate(-38)" dy="0.36em" font-size="12" fill="#000" stroke="#000" stroke-width="0.12">98.17</text>
<text transform="translate(625.27,145.83) rotate(-38)" dy="0.36em" font-size="12" fill="#000" stroke="#fff" stroke-width="2.4" paint-order="stroke" stroke-linejoin="round">95.75</text>
<text transform="translate(625.27,145.83) rotate(-38)" dy="0.36em" font-size="12" fill="#000" stroke="#000" stroke-width="0.12">95.75</text>
<text transform="translate(677.81,114.33) rotate(-38)" dy="0.36em" font-size="12" fill="#000" stroke="#fff" stroke-width="2.4" paint-order="stroke" stroke-linejoin="round">97.58</text>
<text transform="translate(677.81,114.33) rotate(-38)" dy="0.36em" font-size="12" fill="#000" stroke="#000" stroke-width="0.12">97.58</text>
<text transform="translate(730.35,92.81) rotate(-38)" dy="0.36em" font-size="12" fill="#000" stroke="#fff" stroke-width="2.4" paint-order="stroke" stroke-linejoin="round">98.83</text>
<text transform="translate(730.35,92.81) rotate(-38)" dy="0.36em" font-size="12" fill="#000" stroke="#000" stroke-width="0.12">98.83</text>
<rect x="817" y="143.4" width="71.7" height="51.4" fill="#ffffff" fill-opacity="0.25"/>
<line x1="818" y1="151.3" x2="834.5" y2="151.3" stroke="#ff0000" stroke-width="1.6"/>
<circle cx="826.4" cy="151.3" r="2.7" fill="#ff0000"/>
<text x="838" y="153.9" font-size="9" fill="#ff0000">Red Range</text>
<line x1="818" y1="164.2" x2="834.5" y2="164.2" stroke="#00dd00" stroke-width="1.6"/>
<circle cx="826.4" cy="164.2" r="2.7" fill="#00dd00"/>
<text x="838" y="166.8" font-size="9" fill="#00dd00">Process Range</text>
<line x1="818" y1="177.2" x2="834.5" y2="177.2" stroke="#2222dd" stroke-width="1.6"/>
<circle cx="826.4" cy="177.2" r="2.7" fill="#2222dd"/>
<text x="838" y="179.8" font-size="9" fill="#2222dd">Goal</text>
<line x1="818" y1="190.2" x2="834.5" y2="190.2" stroke="#000000" stroke-width="1.6"/>
<circle cx="826.4" cy="190.2" r="2.7" fill="#000000"/>
<text x="838" y="192.8" font-size="9" fill="#000000">Actual</text>
<rect x="899" y="38" width="20" height="329" fill="#ffffff"/>
<defs><linearGradient id="navg" x1="0" y1="0" x2="1" y2="1"><stop offset="0" stop-color="#1a55c4"/><stop offset="1" stop-color="#0a8cff"/></linearGradient></defs>
<polygon points="5.20,193.00 12.40,186.00 15.00,188.40 10.70,193.00 15.00,197.60 12.40,200.00" fill="url(#navg)"/>
<polygon points="3.00,213.00 9.10,206.20 10.90,208.00 7.70,213.00 10.90,218.00 9.10,219.80" fill="url(#navg)"/>
<polygon points="8.90,213.00 15.00,206.20 16.80,208.00 13.60,213.00 16.80,218.00 15.00,219.80" fill="url(#navg)"/>
<polygon points="913.90,192.90 906.70,185.90 904.10,188.30 908.40,192.90 904.10,197.50 906.70,199.90" fill="url(#navg)"/>
<polygon points="909.70,212.80 903.60,206.00 901.80,207.80 905.00,212.80 901.80,217.80 903.60,219.60" fill="url(#navg)"/>
<polygon points="916.00,212.80 909.90,206.00 908.10,207.80 911.30,212.80 908.10,217.80 909.90,219.60" fill="url(#navg)"/>
</svg>
<div class="ct" style="left:6.5px;top:5px">Total training Matrix</div>
<div class="ct" style="left:6.5px;top:21px">%</div>
<svg class="uparr" width="22" height="22" viewBox="0 0 22 22" style="position:absolute;left:790px;top:8px"><defs><linearGradient id="ag" x1="0" y1="0" x2="0" y2="1"><stop offset="0" stop-color="#8a8a8a"/><stop offset="1" stop-color="#000"/></linearGradient></defs><path d="M10.8,1.2 L20.3,10.7 L15.6,10.7 L15.6,20.3 L6,20.3 L6,10.7 L1.3,10.7 Z" fill="url(#ag)" stroke="#555" stroke-width="0.8"/></svg>
<div class="vbox" style="background:#fff;color:#111"><div>5.00</div><div>5.00</div></div>
<div class="ft" style="left:9px;letter-spacing:0px">Comparative measurements</div>
<div class="fsep" style="left:156.3px"></div>
<div class="ft" style="left:168.5px;letter-spacing:0px">Hide Label</div>
<div class="fsep" style="left:231.5px"></div>
<div class="ft" style="left:243.2px;letter-spacing:0px">Accumulate values</div>
<div class="fsep" style="left:345.7px"></div>
<div class="ft" style="left:357.4px;letter-spacing:-0.1px">Show<span class=car></span></div>
<div class="fsep" style="left:403.8px"></div>
<div class="ft" style="left:415px;letter-spacing:0px">Period: Current year<span class=car></span></div>
<div class="fsep" style="left:531.9px"></div>
<div class="ft" style="left:543.6px;letter-spacing:-0.12px">Previous years<span class=car></span></div>
</div>
<div class="abs" style="left:36px;top:514px;width:919px;height:393px;overflow:hidden">
<svg width="919" height="393" viewBox="0 0 919 393" style="position:absolute;left:0;top:0">
<defs><filter id="sh" x="-5%" y="-20%" width="110%" height="140%"><feGaussianBlur in="SourceAlpha" stdDeviation="1"/><feOffset dx="1" dy="1.5"/><feComponentTransfer><feFuncA type="linear" slope="0.25"/></feComponentTransfer><feMerge><feMergeNode/><feMergeNode in="SourceGraphic"/></feMerge></filter></defs>
<rect x="0" y="0" width="919" height="38" fill="#e0e3e6"/>
<rect x="0" y="38" width="919" height="329" fill="#ffffff"/>
<rect x="20" y="38" width="879" height="329" fill="#f6f8f8"/>
<rect x="0" y="367" width="919" height="26" fill="#e0e3e6"/>
<line x1="69.5" y1="294.5" x2="75.5" y2="294.5" stroke="#444" stroke-width="1.3"/>
<text x="64.6" y="297.9" text-anchor="end" font-size="12" fill="#333">84.00</text>
<line x1="75.5" y1="267.5" x2="817" y2="267.5" stroke="#d6d6d6" stroke-width="1"/>
<line x1="69.5" y1="267.5" x2="75.5" y2="267.5" stroke="#444" stroke-width="1.3"/>
<text x="64.6" y="270.9" text-anchor="end" font-size="12" fill="#333">86.00</text>
<line x1="75.5" y1="240.5" x2="817" y2="240.5" stroke="#d6d6d6" stroke-width="1"/>
<line x1="69.5" y1="240.5" x2="75.5" y2="240.5" stroke="#444" stroke-width="1.3"/>
<text x="64.6" y="243.9" text-anchor="end" font-size="12" fill="#333">88.00</text>
<line x1="75.5" y1="213.5" x2="817" y2="213.5" stroke="#d6d6d6" stroke-width="1"/>
<line x1="69.5" y1="213.5" x2="75.5" y2="213.5" stroke="#444" stroke-width="1.3"/>
<text x="64.6" y="216.9" text-anchor="end" font-size="12" fill="#333">90.00</text>
<line x1="75.5" y1="186.5" x2="817" y2="186.5" stroke="#d6d6d6" stroke-width="1"/>
<line x1="69.5" y1="186.5" x2="75.5" y2="186.5" stroke="#444" stroke-width="1.3"/>
<text x="64.6" y="189.9" text-anchor="end" font-size="12" fill="#333">92.00</text>
<line x1="75.5" y1="160.5" x2="817" y2="160.5" stroke="#d6d6d6" stroke-width="1"/>
<line x1="69.5" y1="160.5" x2="75.5" y2="160.5" stroke="#444" stroke-width="1.3"/>
<text x="64.6" y="163.9" text-anchor="end" font-size="12" fill="#333">94.00</text>
<line x1="75.5" y1="133.5" x2="817" y2="133.5" stroke="#d6d6d6" stroke-width="1"/>
<line x1="69.5" y1="133.5" x2="75.5" y2="133.5" stroke="#444" stroke-width="1.3"/>
<text x="64.6" y="136.9" text-anchor="end" font-size="12" fill="#333">96.00</text>
<line x1="75.5" y1="106.5" x2="817" y2="106.5" stroke="#d6d6d6" stroke-width="1"/>
<line x1="69.5" y1="106.5" x2="75.5" y2="106.5" stroke="#444" stroke-width="1.3"/>
<text x="64.6" y="109.9" text-anchor="end" font-size="12" fill="#333">98.00</text>
<line x1="75.5" y1="79.5" x2="817" y2="79.5" stroke="#d6d6d6" stroke-width="1"/>
<line x1="69.5" y1="79.5" x2="75.5" y2="79.5" stroke="#444" stroke-width="1.3"/>
<text x="64.6" y="82.9" text-anchor="end" font-size="12" fill="#333">100.00</text>
<line x1="69.5" y1="53.5" x2="75.5" y2="53.5" stroke="#444" stroke-width="1.3"/>
<text x="64.6" y="56.9" text-anchor="end" font-size="12" fill="#333">102.00</text>
<line x1="105.5" y1="54.0" x2="105.5" y2="294.0" stroke="#d6d6d6" stroke-width="1"/>
<line x1="105.5" y1="294.0" x2="105.5" y2="300.0" stroke="#444" stroke-width="1.3"/>
<line x1="157.5" y1="54.0" x2="157.5" y2="294.0" stroke="#d6d6d6" stroke-width="1"/>
<line x1="157.5" y1="294.0" x2="157.5" y2="300.0" stroke="#444" stroke-width="1.3"/>
<line x1="210.5" y1="54.0" x2="210.5" y2="294.0" stroke="#d6d6d6" stroke-width="1"/>
<line x1="210.5" y1="294.0" x2="210.5" y2="300.0" stroke="#444" stroke-width="1.3"/>
<line x1="262.5" y1="54.0" x2="262.5" y2="294.0" stroke="#d6d6d6" stroke-width="1"/>
<line x1="262.5" y1="294.0" x2="262.5" y2="300.0" stroke="#444" stroke-width="1.3"/>
<line x1="315.5" y1="54.0" x2="315.5" y2="294.0" stroke="#d6d6d6" stroke-width="1"/>
<line x1="315.5" y1="294.0" x2="315.5" y2="300.0" stroke="#444" stroke-width="1.3"/>
<line x1="367.5" y1="54.0" x2="367.5" y2="294.0" stroke="#d6d6d6" stroke-width="1"/>
<line x1="367.5" y1="294.0" x2="367.5" y2="300.0" stroke="#444" stroke-width="1.3"/>
<line x1="420.5" y1="54.0" x2="420.5" y2="294.0" stroke="#d6d6d6" stroke-width="1"/>
<line x1="420.5" y1="294.0" x2="420.5" y2="300.0" stroke="#444" stroke-width="1.3"/>
<line x1="472.5" y1="54.0" x2="472.5" y2="294.0" stroke="#d6d6d6" stroke-width="1"/>
<line x1="472.5" y1="294.0" x2="472.5" y2="300.0" stroke="#444" stroke-width="1.3"/>
<line x1="525.5" y1="54.0" x2="525.5" y2="294.0" stroke="#d6d6d6" stroke-width="1"/>
<line x1="525.5" y1="294.0" x2="525.5" y2="300.0" stroke="#444" stroke-width="1.3"/>
<line x1="577.5" y1="54.0" x2="577.5" y2="294.0" stroke="#d6d6d6" stroke-width="1"/>
<line x1="577.5" y1="294.0" x2="577.5" y2="300.0" stroke="#444" stroke-width="1.3"/>
<line x1="630.5" y1="54.0" x2="630.5" y2="294.0" stroke="#d6d6d6" stroke-width="1"/>
<line x1="630.5" y1="294.0" x2="630.5" y2="300.0" stroke="#444" stroke-width="1.3"/>
<line x1="682.5" y1="54.0" x2="682.5" y2="294.0" stroke="#d6d6d6" stroke-width="1"/>
<line x1="682.5" y1="294.0" x2="682.5" y2="300.0" stroke="#444" stroke-width="1.3"/>
<line x1="735.5" y1="54.0" x2="735.5" y2="294.0" stroke="#d6d6d6" stroke-width="1"/>
<line x1="735.5" y1="294.0" x2="735.5" y2="300.0" stroke="#444" stroke-width="1.3"/>
<line x1="788.5" y1="54.0" x2="788.5" y2="294.0" stroke="#d6d6d6" stroke-width="1"/>
<line x1="788.5" y1="294.0" x2="788.5" y2="300.0" stroke="#444" stroke-width="1.3"/>
<line x1="75.5" y1="53.0" x2="75.5" y2="294.5" stroke="#444" stroke-width="1.3"/>
<line x1="69.5" y1="294.5" x2="818" y2="294.5" stroke="#3a3a3a" stroke-width="1.2"/>
<text transform="translate(150.3,309.6) rotate(65)" font-size="12" fill="#333">JAN / 24</text>
<text transform="translate(202.9,309.6) rotate(65)" font-size="12" fill="#333">FEB</text>
<text transform="translate(255.4,309.6) rotate(65)" font-size="12" fill="#333">MAR</text>
<text transform="translate(308.0,309.6) rotate(65)" font-size="12" fill="#333">APR</text>
<text transform="translate(360.5,309.6) rotate(65)" font-size="12" fill="#333">MAY</text>
<text transform="translate(413.0,309.6) rotate(65)" font-size="12" fill="#333">JUN</text>
<text transform="translate(465.6,309.6) rotate(65)" font-size="12" fill="#333">JUL</text>
<text transform="translate(518.1,309.6) rotate(65)" font-size="12" fill="#333">AUG</text>
<text transform="translate(570.7,309.6) rotate(65)" font-size="12" fill="#333">SEP</text>
<text transform="translate(623.2,309.6) rotate(65)" font-size="12" fill="#333">OCT</text>
<text transform="translate(675.7,309.6) rotate(65)" font-size="12" fill="#333">NOV</text>
<text transform="translate(728.3,309.6) rotate(65)" font-size="12" fill="#333">DEC / 24</text>
<g filter="url(#sh)">
<path d="M157.5,79.8 L210.1,79.8 L262.6,79.8 L315.2,79.8 L367.7,79.8 L420.2,79.8 L472.8,79.8 L525.3,79.8 L577.9,79.8 L630.4,79.8 L682.9,79.8 L735.5,79.8" fill="none" stroke="#00dc00" stroke-width="4.8" stroke-linecap="round" stroke-linejoin="round"/>
<path d="M157.5,213.7 L210.1,213.7 L262.6,213.7 L315.2,213.7 L367.7,213.7 L420.2,213.7 L472.8,213.7 L525.3,213.7 L577.9,213.7 L630.4,213.7 L682.9,213.7 L735.5,236.0" fill="none" stroke="#00dc00" stroke-width="4.8" stroke-linecap="round" stroke-linejoin="round"/>
<path d="M157.5,213.7 L210.1,213.7 L262.6,213.7 L315.2,213.7 L367.7,213.7 L420.2,213.7 L472.8,213.7 L525.3,213.7 L577.9,213.7 L630.4,213.7 L682.9,213.7 L735.5,213.7" fill="none" stroke="#2323dd" stroke-width="1.7" stroke-linejoin="round"/>
<circle cx="157.5" cy="79.8" r="2.9" fill="#00dc00"/>
<circle cx="210.1" cy="79.8" r="2.9" fill="#00dc00"/>
<circle cx="262.6" cy="79.8" r="2.9" fill="#00dc00"/>
<circle cx="315.2" cy="79.8" r="2.9" fill="#00dc00"/>
<circle cx="367.7" cy="79.8" r="2.9" fill="#00dc00"/>
<circle cx="420.2" cy="79.8" r="2.9" fill="#00dc00"/>
<circle cx="472.8" cy="79.8" r="2.9" fill="#00dc00"/>
<circle cx="525.3" cy="79.8" r="2.9" fill="#00dc00"/>
<circle cx="577.9" cy="79.8" r="2.9" fill="#00dc00"/>
<circle cx="630.4" cy="79.8" r="2.9" fill="#00dc00"/>
<circle cx="682.9" cy="79.8" r="2.9" fill="#00dc00"/>
<circle cx="735.5" cy="79.8" r="2.9" fill="#00dc00"/>
<circle cx="157.5" cy="213.7" r="2.9" fill="#00dc00"/>
<circle cx="210.1" cy="213.7" r="2.9" fill="#00dc00"/>
<circle cx="262.6" cy="213.7" r="2.9" fill="#00dc00"/>
<circle cx="315.2" cy="213.7" r="2.9" fill="#00dc00"/>
<circle cx="367.7" cy="213.7" r="2.9" fill="#00dc00"/>
<circle cx="420.2" cy="213.7" r="2.9" fill="#00dc00"/>
<circle cx="472.8" cy="213.7" r="2.9" fill="#00dc00"/>
<circle cx="525.3" cy="213.7" r="2.9" fill="#00dc00"/>
<circle cx="577.9" cy="213.7" r="2.9" fill="#00dc00"/>
<circle cx="630.4" cy="213.7" r="2.9" fill="#00dc00"/>
<circle cx="682.9" cy="213.7" r="2.9" fill="#00dc00"/>
<circle cx="735.5" cy="236.0" r="2.9" fill="#00dc00"/>
</g>
<circle cx="157.5" cy="213.7" r="3" fill="#2323dd"/>
<circle cx="210.1" cy="213.7" r="3" fill="#2323dd"/>
<circle cx="262.6" cy="213.7" r="3" fill="#2323dd"/>
<circle cx="315.2" cy="213.7" r="3" fill="#2323dd"/>
<circle cx="367.7" cy="213.7" r="3" fill="#2323dd"/>
<circle cx="420.2" cy="213.7" r="3" fill="#2323dd"/>
<circle cx="472.8" cy="213.7" r="3" fill="#2323dd"/>
<circle cx="525.3" cy="213.7" r="3" fill="#2323dd"/>
<circle cx="577.9" cy="213.7" r="3" fill="#2323dd"/>
<circle cx="630.4" cy="213.7" r="3" fill="#2323dd"/>
<circle cx="682.9" cy="213.7" r="3" fill="#2323dd"/>
<circle cx="735.5" cy="213.7" r="3" fill="#2323dd"/>
<path d="M157.5,249.4 L210.1,253.8 L262.6,271.6 L315.2,227.1 L367.7,218.1 L420.2,151.1 L472.8,186.9 L525.3,142.3 L577.9,128.9 L630.4,173.5 L682.9,124.4 L735.5,111.0" fill="none" stroke="#000" stroke-width="3.2" stroke-linejoin="round" filter="url(#sh)"/>
<circle cx="157.5" cy="249.4" r="3.1" fill="#fff" stroke="#000" stroke-width="1.2"/>
<circle cx="210.1" cy="253.8" r="3.1" fill="#fff" stroke="#000" stroke-width="1.2"/>
<circle cx="262.6" cy="271.6" r="3.1" fill="#fff" stroke="#000" stroke-width="1.2"/>
<circle cx="315.2" cy="227.1" r="3.1" fill="#fff" stroke="#000" stroke-width="1.2"/>
<circle cx="367.7" cy="218.1" r="3.1" fill="#fff" stroke="#000" stroke-width="1.2"/>
<circle cx="420.2" cy="151.1" r="3.1" fill="#fff" stroke="#000" stroke-width="1.2"/>
<circle cx="472.8" cy="186.9" r="3.1" fill="#fff" stroke="#000" stroke-width="1.2"/>
<circle cx="525.3" cy="142.3" r="3.1" fill="#fff" stroke="#000" stroke-width="1.2"/>
<circle cx="577.9" cy="128.9" r="3.1" fill="#fff" stroke="#000" stroke-width="1.2"/>
<circle cx="630.4" cy="173.5" r="3.1" fill="#fff" stroke="#000" stroke-width="1.2"/>
<circle cx="682.9" cy="124.4" r="3.1" fill="#fff" stroke="#000" stroke-width="1.2"/>
<circle cx="735.5" cy="111.0" r="3.1" fill="#fff" stroke="#000" stroke-width="1.2"/>
<text transform="translate(152.41,234.66) rotate(-38)" dy="0.36em" font-size="12" fill="#000" stroke="#fff" stroke-width="2.4" paint-order="stroke" stroke-linejoin="round">87.33</text>
<text transform="translate(152.41,234.66) rotate(-38)" dy="0.36em" font-size="12" fill="#000" stroke="#000" stroke-width="0.12">87.33</text>
<text transform="translate(204.95,239.08) rotate(-38)" dy="0.36em" font-size="12" fill="#000" stroke="#fff" stroke-width="2.4" paint-order="stroke" stroke-linejoin="round">87.00</text>
<text transform="translate(204.95,239.08) rotate(-38)" dy="0.36em" font-size="12" fill="#000" stroke="#000" stroke-width="0.12">87.00</text>
<text transform="translate(257.49,256.88) rotate(-38)" dy="0.36em" font-size="12" fill="#000" stroke="#fff" stroke-width="2.4" paint-order="stroke" stroke-linejoin="round">85.67</text>
<text transform="translate(257.49,256.88) rotate(-38)" dy="0.36em" font-size="12" fill="#000" stroke="#000" stroke-width="0.12">85.67</text>
<text transform="translate(310.03,212.30) rotate(-38)" dy="0.36em" font-size="12" fill="#000" stroke="#fff" stroke-width="2.4" paint-order="stroke" stroke-linejoin="round">89.00</text>
<text transform="translate(310.03,212.30) rotate(-38)" dy="0.36em" font-size="12" fill="#000" stroke="#000" stroke-width="0.12">89.00</text>
<text transform="translate(362.57,203.33) rotate(-38)" dy="0.36em" font-size="12" fill="#000" stroke="#fff" stroke-width="2.4" paint-order="stroke" stroke-linejoin="round">89.67</text>
<text transform="translate(362.57,203.33) rotate(-38)" dy="0.36em" font-size="12" fill="#000" stroke="#000" stroke-width="0.12">89.67</text>
<text transform="translate(415.11,136.38) rotate(-38)" dy="0.36em" font-size="12" fill="#000" stroke="#fff" stroke-width="2.4" paint-order="stroke" stroke-linejoin="round">94.67</text>
<text transform="translate(415.11,136.38) rotate(-38)" dy="0.36em" font-size="12" fill="#000" stroke="#000" stroke-width="0.12">94.67</text>
<text transform="translate(467.65,172.13) rotate(-38)" dy="0.36em" font-size="12" fill="#000" stroke="#fff" stroke-width="2.4" paint-order="stroke" stroke-linejoin="round">92.00</text>
<text transform="translate(467.65,172.13) rotate(-38)" dy="0.36em" font-size="12" fill="#000" stroke="#000" stroke-width="0.12">92.00</text>
<text transform="translate(520.19,127.55) rotate(-38)" dy="0.36em" font-size="12" fill="#000" stroke="#fff" stroke-width="2.4" paint-order="stroke" stroke-linejoin="round">95.33</text>
<text transform="translate(520.19,127.55) rotate(-38)" dy="0.36em" font-size="12" fill="#000" stroke="#000" stroke-width="0.12">95.33</text>
<text transform="translate(572.73,114.16) rotate(-38)" dy="0.36em" font-size="12" fill="#000" stroke="#fff" stroke-width="2.4" paint-order="stroke" stroke-linejoin="round">96.33</text>
<text transform="translate(572.73,114.16) rotate(-38)" dy="0.36em" font-size="12" fill="#000" stroke="#000" stroke-width="0.12">96.33</text>
<text transform="translate(625.27,158.74) rotate(-38)" dy="0.36em" font-size="12" fill="#000" stroke="#fff" stroke-width="2.4" paint-order="stroke" stroke-linejoin="round">93.00</text>
<text transform="translate(625.27,158.74) rotate(-38)" dy="0.36em" font-size="12" fill="#000" stroke="#000" stroke-width="0.12">93.00</text>
<text transform="translate(677.81,109.61) rotate(-38)" dy="0.36em" font-size="12" fill="#000" stroke="#fff" stroke-width="2.4" paint-order="stroke" stroke-linejoin="round">96.67</text>
<text transform="translate(677.81,109.61) rotate(-38)" dy="0.36em" font-size="12" fill="#000" stroke="#000" stroke-width="0.12">96.67</text>
<text transform="translate(730.35,96.22) rotate(-38)" dy="0.36em" font-size="12" fill="#000" stroke="#fff" stroke-width="2.4" paint-order="stroke" stroke-linejoin="round">97.67</text>
<text transform="translate(730.35,96.22) rotate(-38)" dy="0.36em" font-size="12" fill="#000" stroke="#000" stroke-width="0.12">97.67</text>
<rect x="817" y="143.4" width="71.7" height="51.4" fill="#ffffff" fill-opacity="0.25"/>
<line x1="818" y1="151.3" x2="834.5" y2="151.3" stroke="#ff0000" stroke-width="1.6"/>
<circle cx="826.4" cy="151.3" r="2.7" fill="#ff0000"/>
<text x="838" y="153.9" font-size="9" fill="#ff0000">Red Range</text>
<line x1="818" y1="164.2" x2="834.5" y2="164.2" stroke="#00dd00" stroke-width="1.6"/>
<circle cx="826.4" cy="164.2" r="2.7" fill="#00dd00"/>
<text x="838" y="166.8" font-size="9" fill="#00dd00">Process Range</text>
<line x1="818" y1="177.2" x2="834.5" y2="177.2" stroke="#2222dd" stroke-width="1.6"/>
<circle cx="826.4" cy="177.2" r="2.7" fill="#2222dd"/>
<text x="838" y="179.8" font-size="9" fill="#2222dd">Goal</text>
<line x1="818" y1="190.2" x2="834.5" y2="190.2" stroke="#000000" stroke-width="1.6"/>
<circle cx="826.4" cy="190.2" r="2.7" fill="#000000"/>
<text x="838" y="192.8" font-size="9" fill="#000000">Actual</text>
<rect x="899" y="38" width="20" height="329" fill="#ffffff"/>
<defs><linearGradient id="navg" x1="0" y1="0" x2="1" y2="1"><stop offset="0" stop-color="#1a55c4"/><stop offset="1" stop-color="#0a8cff"/></linearGradient></defs>
<polygon points="5.20,193.00 12.40,186.00 15.00,188.40 10.70,193.00 15.00,197.60 12.40,200.00" fill="url(#navg)"/>
<polygon points="3.00,213.00 9.10,206.20 10.90,208.00 7.70,213.00 10.90,218.00 9.10,219.80" fill="url(#navg)"/>
<polygon points="8.90,213.00 15.00,206.20 16.80,208.00 13.60,213.00 16.80,218.00 15.00,219.80" fill="url(#navg)"/>
<polygon points="913.90,192.90 906.70,185.90 904.10,188.30 908.40,192.90 904.10,197.50 906.70,199.90" fill="url(#navg)"/>
<polygon points="909.70,212.80 903.60,206.00 901.80,207.80 905.00,212.80 901.80,217.80 903.60,219.60" fill="url(#navg)"/>
<polygon points="916.00,212.80 909.90,206.00 908.10,207.80 911.30,212.80 908.10,217.80 909.90,219.60" fill="url(#navg)"/>
</svg>
<div class="ct" style="left:6.5px;top:5px">Traning Matrix (Industrial Dir.)</div>
<div class="ct" style="left:6.5px;top:21px">%</div>
<svg class="uparr" width="22" height="22" viewBox="0 0 22 22" style="position:absolute;left:790px;top:8px"><defs><linearGradient id="ag" x1="0" y1="0" x2="0" y2="1"><stop offset="0" stop-color="#8a8a8a"/><stop offset="1" stop-color="#000"/></linearGradient></defs><path d="M10.8,1.2 L20.3,10.7 L15.6,10.7 L15.6,20.3 L6,20.3 L6,10.7 L1.3,10.7 Z" fill="url(#ag)" stroke="#555" stroke-width="0.8"/></svg>
<div class="vbox" style="background:#e33632;color:#fff"><div>&nbsp;</div><div>90.00</div></div>
<div class="ft" style="left:9px;letter-spacing:0px">Comparative measurements</div>
<div class="fsep" style="left:156.3px"></div>
<div class="ft" style="left:168.5px;letter-spacing:0px">Hide Label</div>
<div class="fsep" style="left:231.5px"></div>
<div class="ft" style="left:243.2px;letter-spacing:0px">Accumulate values</div>
<div class="fsep" style="left:345.7px"></div>
<div class="ft" style="left:357.4px;letter-spacing:-0.1px">Show<span class=car></span></div>
<div class="fsep" style="left:403.8px"></div>
<div class="ft" style="left:415px;letter-spacing:0px">Period: Current year<span class=car></span></div>
<div class="fsep" style="left:531.9px"></div>
<div class="ft" style="left:543.6px;letter-spacing:-0.12px">Previous years<span class=car></span></div>
</div>
<div class="abs" style="left:961px;top:514px;width:919px;height:393px;overflow:hidden">
<svg width="919" height="393" viewBox="0 0 919 393" style="position:absolute;left:0;top:0">
<defs><filter id="sh" x="-5%" y="-20%" width="110%" height="140%"><feGaussianBlur in="SourceAlpha" stdDeviation="1"/><feOffset dx="1" dy="1.5"/><feComponentTransfer><feFuncA type="linear" slope="0.25"/></feComponentTransfer><feMerge><feMergeNode/><feMergeNode in="SourceGraphic"/></feMerge></filter></defs>
<rect x="0" y="0" width="919" height="38" fill="#e0e3e6"/>
<rect x="0" y="38" width="919" height="329" fill="#ffffff"/>
<rect x="20" y="38" width="879" height="329" fill="#f6f8f8"/>
<rect x="0" y="367" width="919" height="26" fill="#e0e3e6"/>
<line x1="69.5" y1="294.5" x2="75.5" y2="294.5" stroke="#444" stroke-width="1.3"/>
<text x="64.6" y="297.9" text-anchor="end" font-size="12" fill="#333">88.00</text>
<line x1="75.5" y1="259.5" x2="817" y2="259.5" stroke="#d6d6d6" stroke-width="1"/>
<line x1="69.5" y1="259.5" x2="75.5" y2="259.5" stroke="#444" stroke-width="1.3"/>
<text x="64.6" y="262.9" text-anchor="end" font-size="12" fill="#333">90.00</text>
<line x1="75.5" y1="225.5" x2="817" y2="225.5" stroke="#d6d6d6" stroke-width="1"/>
<line x1="69.5" y1="225.5" x2="75.5" y2="225.5" stroke="#444" stroke-width="1.3"/>
<text x="64.6" y="228.9" text-anchor="end" font-size="12" fill="#333">92.00</text>
<line x1="75.5" y1="190.5" x2="817" y2="190.5" stroke="#d6d6d6" stroke-width="1"/>
<line x1="69.5" y1="190.5" x2="75.5" y2="190.5" stroke="#444" stroke-width="1.3"/>
<text x="64.6" y="193.9" text-anchor="end" font-size="12" fill="#333">94.00</text>
<line x1="75.5" y1="156.5" x2="817" y2="156.5" stroke="#d6d6d6" stroke-width="1"/>
<line x1="69.5" y1="156.5" x2="75.5" y2="156.5" stroke="#444" stroke-width="1.3"/>
<text x="64.6" y="159.9" text-anchor="end" font-size="12" fill="#333">96.00</text>
<line x1="75.5" y1="121.5" x2="817" y2="121.5" stroke="#d6d6d6" stroke-width="1"/>
<line x1="69.5" y1="121.5" x2="75.5" y2="121.5" stroke="#444" stroke-width="1.3"/>
<text x="64.6" y="124.9" text-anchor="end" font-size="12" fill="#333">98.00</text>
<line x1="75.5" y1="87.5" x2="817" y2="87.5" stroke="#d6d6d6" stroke-width="1"/>
<line x1="69.5" y1="87.5" x2="75.5" y2="87.5" stroke="#444" stroke-width="1.3"/>
<text x="64.6" y="90.9" text-anchor="end" font-size="12" fill="#333">100.00</text>
<line x1="69.5" y1="53.5" x2="75.5" y2="53.5" stroke="#444" stroke-width="1.3"/>
<text x="64.6" y="56.9" text-anchor="end" font-size="12" fill="#333">102.00</text>
<line x1="105.5" y1="54.0" x2="105.5" y2="294.0" stroke="#d6d6d6" stroke-width="1"/>
<line x1="105.5" y1="294.0" x2="105.5" y2="300.0" stroke="#444" stroke-width="1.3"/>
<line x1="157.5" y1="54.0" x2="157.5" y2="294.0" stroke="#d6d6d6" stroke-width="1"/>
<line x1="157.5" y1="294.0" x2="157.5" y2="300.0" stroke="#444" stroke-width="1.3"/>
<line x1="210.5" y1="54.0" x2="210.5" y2="294.0" stroke="#d6d6d6" stroke-width="1"/>
<line x1="210.5" y1="294.0" x2="210.5" y2="300.0" stroke="#444" stroke-width="1.3"/>
<line x1="262.5" y1="54.0" x2="262.5" y2="294.0" stroke="#d6d6d6" stroke-width="1"/>
<line x1="262.5" y1="294.0" x2="262.5" y2="300.0" stroke="#444" stroke-width="1.3"/>
<line x1="315.5" y1="54.0" x2="315.5" y2="294.0" stroke="#d6d6d6" stroke-width="1"/>
<line x1="315.5" y1="294.0" x2="315.5" y2="300.0" stroke="#444" stroke-width="1.3"/>
<line x1="367.5" y1="54.0" x2="367.5" y2="294.0" stroke="#d6d6d6" stroke-width="1"/>
<line x1="367.5" y1="294.0" x2="367.5" y2="300.0" stroke="#444" stroke-width="1.3"/>
<line x1="420.5" y1="54.0" x2="420.5" y2="294.0" stroke="#d6d6d6" stroke-width="1"/>
<line x1="420.5" y1="294.0" x2="420.5" y2="300.0" stroke="#444" stroke-width="1.3"/>
<line x1="472.5" y1="54.0" x2="472.5" y2="294.0" stroke="#d6d6d6" stroke-width="1"/>
<line x1="472.5" y1="294.0" x2="472.5" y2="300.0" stroke="#444" stroke-width="1.3"/>
<line x1="525.5" y1="54.0" x2="525.5" y2="294.0" stroke="#d6d6d6" stroke-width="1"/>
<line x1="525.5" y1="294.0" x2="525.5" y2="300.0" stroke="#444" stroke-width="1.3"/>
<line x1="577.5" y1="54.0" x2="577.5" y2="294.0" stroke="#d6d6d6" stroke-width="1"/>
<line x1="577.5" y1="294.0" x2="577.5" y2="300.0" stroke="#444" stroke-width="1.3"/>
<line x1="630.5" y1="54.0" x2="630.5" y2="294.0" stroke="#d6d6d6" stroke-width="1"/>
<line x1="630.5" y1="294.0" x2="630.5" y2="300.0" stroke="#444" stroke-width="1.3"/>
<line x1="682.5" y1="54.0" x2="682.5" y2="294.0" stroke="#d6d6d6" stroke-width="1"/>
<line x1="682.5" y1="294.0" x2="682.5" y2="300.0" stroke="#444" stroke-width="1.3"/>
<line x1="735.5" y1="54.0" x2="735.5" y2="294.0" stroke="#d6d6d6" stroke-width="1"/>
<line x1="735.5" y1="294.0" x2="735.5" y2="300.0" stroke="#444" stroke-width="1.3"/>
<line x1="788.5" y1="54.0" x2="788.5" y2="294.0" stroke="#d6d6d6" stroke-width="1"/>
<line x1="788.5" y1="294.0" x2="788.5" y2="300.0" stroke="#444" stroke-width="1.3"/>
<line x1="75.5" y1="53.0" x2="75.5" y2="294.5" stroke="#444" stroke-width="1.3"/>
<line x1="69.5" y1="294.5" x2="818" y2="294.5" stroke="#3a3a3a" stroke-width="1.2"/>
<text transform="translate(150.3,309.6) rotate(65)" font-size="12" fill="#333">JAN / 24</text>
<text transform="translate(202.9,309.6) rotate(65)" font-size="12" fill="#333">FEB</text>
<text transform="translate(255.4,309.6) rotate(65)" font-size="12" fill="#333">MAR</text>
<text transform="translate(308.0,309.6) rotate(65)" font-size="12" fill="#333">APR</text>
<text transform="translate(360.5,309.6) rotate(65)" font-size="12" fill="#333">MAY</text>
<text transform="translate(413.0,309.6) rotate(65)" font-size="12" fill="#333">JUN</text>
<text transform="translate(465.6,309.6) rotate(65)" font-size="12" fill="#333">JUL</text>
<text transform="translate(518.1,309.6) rotate(65)" font-size="12" fill="#333">AUG</text>
<text transform="translate(570.7,309.6) rotate(65)" font-size="12" fill="#333">SEP</text>
<text transform="translate(623.2,309.6) rotate(65)" font-size="12" fill="#333">OCT</text>
<text transform="translate(675.7,309.6) rotate(65)" font-size="12" fill="#333">NOV</text>
<text transform="translate(728.3,309.6) rotate(65)" font-size="12" fill="#333">DEC / 24</text>
<g filter="url(#sh)">
<path d="M157.5,87.4 L210.1,87.4 L262.6,87.4 L315.2,87.4 L367.7,87.4 L420.2,87.4 L472.8,87.4 L525.3,87.4 L577.9,87.4 L630.4,87.4 L682.9,87.4 L735.5,87.4" fill="none" stroke="#00dc00" stroke-width="4.8" stroke-linecap="round" stroke-linejoin="round"/>
<path d="M157.5,259.6 L210.1,259.6 L262.6,259.6 L315.2,259.6 L367.7,259.6 L420.2,259.6 L472.8,259.6 L525.3,259.6 L577.9,259.6 L630.4,259.6 L682.9,259.6 L735.5,259.6" fill="none" stroke="#00dc00" stroke-width="4.8" stroke-linecap="round" stroke-linejoin="round"/>
<path d="M157.5,259.6 L210.1,259.6 L262.6,259.6 L315.2,259.6 L367.7,259.6 L420.2,259.6 L472.8,259.6 L525.3,259.6 L577.9,259.6 L630.4,259.6 L682.9,259.6 L735.5,259.6" fill="none" stroke="#2323dd" stroke-width="1.7" stroke-linejoin="round"/>
<circle cx="157.5" cy="87.4" r="2.9" fill="#00dc00"/>
<circle cx="210.1" cy="87.4" r="2.9" fill="#00dc00"/>
<circle cx="262.6" cy="87.4" r="2.9" fill="#00dc00"/>
<circle cx="315.2" cy="87.4" r="2.9" fill="#00dc00"/>
<circle cx="367.7" cy="87.4" r="2.9" fill="#00dc00"/>
<circle cx="420.2" cy="87.4" r="2.9" fill="#00dc00"/>
<circle cx="472.8" cy="87.4" r="2.9" fill="#00dc00"/>
<circle cx="525.3" cy="87.4" r="2.9" fill="#00dc00"/>
<circle cx="577.9" cy="87.4" r="2.9" fill="#00dc00"/>
<circle cx="630.4" cy="87.4" r="2.9" fill="#00dc00"/>
<circle cx="682.9" cy="87.4" r="2.9" fill="#00dc00"/>
<circle cx="735.5" cy="87.4" r="2.9" fill="#00dc00"/>
<circle cx="157.5" cy="259.6" r="2.9" fill="#00dc00"/>
<circle cx="210.1" cy="259.6" r="2.9" fill="#00dc00"/>
<circle cx="262.6" cy="259.6" r="2.9" fill="#00dc00"/>
<circle cx="315.2" cy="259.6" r="2.9" fill="#00dc00"/>
<circle cx="367.7" cy="259.6" r="2.9" fill="#00dc00"/>
<circle cx="420.2" cy="259.6" r="2.9" fill="#00dc00"/>
<circle cx="472.8" cy="259.6" r="2.9" fill="#00dc00"/>
<circle cx="525.3" cy="259.6" r="2.9" fill="#00dc00"/>
<circle cx="577.9" cy="259.6" r="2.9" fill="#00dc00"/>
<circle cx="630.4" cy="259.6" r="2.9" fill="#00dc00"/>
<circle cx="682.9" cy="259.6" r="2.9" fill="#00dc00"/>
<circle cx="735.5" cy="259.6" r="2.9" fill="#00dc00"/>
</g>
<circle cx="157.5" cy="259.6" r="3" fill="#2323dd"/>
<circle cx="210.1" cy="259.6" r="3" fill="#2323dd"/>
<circle cx="262.6" cy="259.6" r="3" fill="#2323dd"/>
<circle cx="315.2" cy="259.6" r="3" fill="#2323dd"/>
<circle cx="367.7" cy="259.6" r="3" fill="#2323dd"/>
<circle cx="420.2" cy="259.6" r="3" fill="#2323dd"/>
<circle cx="472.8" cy="259.6" r="3" fill="#2323dd"/>
<circle cx="525.3" cy="259.6" r="3" fill="#2323dd"/>
<circle cx="577.9" cy="259.6" r="3" fill="#2323dd"/>
<circle cx="630.4" cy="259.6" r="3" fill="#2323dd"/>
<circle cx="682.9" cy="259.6" r="3" fill="#2323dd"/>
<circle cx="735.5" cy="259.6" r="3" fill="#2323dd"/>
<path d="M157.5,207.9 L210.1,173.5 L262.6,207.9 L315.2,190.7 L367.7,130.5 L420.2,130.5 L472.8,216.5 L525.3,207.9 L577.9,87.4 L630.4,113.2 L682.9,113.2 L735.5,87.4" fill="none" stroke="#000" stroke-width="3.2" stroke-linejoin="round" filter="url(#sh)"/>
<circle cx="157.5" cy="207.9" r="3.1" fill="#fff" stroke="#000" stroke-width="1.2"/>
<circle cx="210.1" cy="173.5" r="3.1" fill="#fff" stroke="#000" stroke-width="1.2"/>
<circle cx="262.6" cy="207.9" r="3.1" fill="#fff" stroke="#000" stroke-width="1.2"/>
<circle cx="315.2" cy="190.7" r="3.1" fill="#fff" stroke="#000" stroke-width="1.2"/>
<circle cx="367.7" cy="130.5" r="3.1" fill="#fff" stroke="#000" stroke-width="1.2"/>
<circle cx="420.2" cy="130.5" r="3.1" fill="#fff" stroke="#000" stroke-width="1.2"/>
<circle cx="472.8" cy="216.5" r="3.1" fill="#fff" stroke="#000" stroke-width="1.2"/>
<circle cx="525.3" cy="207.9" r="3.1" fill="#fff" stroke="#000" stroke-width="1.2"/>
<circle cx="577.9" cy="87.4" r="3.1" fill="#fff" stroke="#000" stroke-width="1.2"/>
<circle cx="630.4" cy="113.2" r="3.1" fill="#fff" stroke="#000" stroke-width="1.2"/>
<circle cx="682.9" cy="113.2" r="3.1" fill="#fff" stroke="#000" stroke-width="1.2"/>
<circle cx="735.5" cy="87.4" r="3.1" fill="#fff" stroke="#000" stroke-width="1.2"/>
<text transform="translate(152.41,193.17) rotate(-38)" dy="0.36em" font-size="12" fill="#000" stroke="#fff" stroke-width="2.4" paint-order="stroke" stroke-linejoin="round">93.00</text>
<text transform="translate(152.41,193.17) rotate(-38)" dy="0.36em" font-size="12" fill="#000" stroke="#000" stroke-width="0.12">93.00</text>
<text transform="translate(204.95,158.74) rotate(-38)" dy="0.36em" font-size="12" fill="#000" stroke="#fff" stroke-width="2.4" paint-order="stroke" stroke-linejoin="round">95.00</text>
<text transform="translate(204.95,158.74) rotate(-38)" dy="0.36em" font-size="12" fill="#000" stroke="#000" stroke-width="0.12">95.00</text>
<text transform="translate(257.49,193.17) rotate(-38)" dy="0.36em" font-size="12" fill="#000" stroke="#fff" stroke-width="2.4" paint-order="stroke" stroke-linejoin="round">93.00</text>
<text transform="translate(257.49,193.17) rotate(-38)" dy="0.36em" font-size="12" fill="#000" stroke="#000" stroke-width="0.12">93.00</text>
<text transform="translate(310.03,175.96) rotate(-38)" dy="0.36em" font-size="12" fill="#000" stroke="#fff" stroke-width="2.4" paint-order="stroke" stroke-linejoin="round">94.00</text>
<text transform="translate(310.03,175.96) rotate(-38)" dy="0.36em" font-size="12" fill="#000" stroke="#000" stroke-width="0.12">94.00</text>
<text transform="translate(362.57,115.71) rotate(-38)" dy="0.36em" font-size="12" fill="#000" stroke="#fff" stroke-width="2.4" paint-order="stroke" stroke-linejoin="round">97.50</text>
<text transform="translate(362.57,115.71) rotate(-38)" dy="0.36em" font-size="12" fill="#000" stroke="#000" stroke-width="0.12">97.50</text>
<text transform="translate(415.11,115.71) rotate(-38)" dy="0.36em" font-size="12" fill="#000" stroke="#fff" stroke-width="2.4" paint-order="stroke" stroke-linejoin="round">97.50</text>
<text transform="translate(415.11,115.71) rotate(-38)" dy="0.36em" font-size="12" fill="#000" stroke="#000" stroke-width="0.12">97.50</text>
<text transform="translate(467.65,201.78) rotate(-38)" dy="0.36em" font-size="12" fill="#000" stroke="#fff" stroke-width="2.4" paint-order="stroke" stroke-linejoin="round">92.50</text>
<text transform="translate(467.65,201.78) rotate(-38)" dy="0.36em" font-size="12" fill="#000" stroke="#000" stroke-width="0.12">92.50</text>
<text transform="translate(520.19,193.17) rotate(-38)" dy="0.36em" font-size="12" fill="#000" stroke="#fff" stroke-width="2.4" paint-order="stroke" stroke-linejoin="round">93.00</text>
<text transform="translate(520.19,193.17) rotate(-38)" dy="0.36em" font-size="12" fill="#000" stroke="#000" stroke-width="0.12">93.00</text>
<text transform="translate(572.73,72.67) rotate(-38)" dy="0.36em" font-size="12" fill="#000" stroke="#fff" stroke-width="2.4" paint-order="stroke" stroke-linejoin="round">100.00</text>
<text transform="translate(572.73,72.67) rotate(-38)" dy="0.36em" font-size="12" fill="#000" stroke="#000" stroke-width="0.12">100.00</text>
<text transform="translate(625.27,98.49) rotate(-38)" dy="0.36em" font-size="12" fill="#000" stroke="#fff" stroke-width="2.4" paint-order="stroke" stroke-linejoin="round">98.50</text>
<text transform="translate(625.27,98.49) rotate(-38)" dy="0.36em" font-size="12" fill="#000" stroke="#000" stroke-width="0.12">98.50</text>
<text transform="translate(677.81,98.49) rotate(-38)" dy="0.36em" font-size="12" fill="#000" stroke="#fff" stroke-width="2.4" paint-order="stroke" stroke-linejoin="round">98.50</text>
<text transform="translate(677.81,98.49) rotate(-38)" dy="0.36em" font-size="12" fill="#000" stroke="#000" stroke-width="0.12">98.50</text>
<text transform="translate(730.35,72.67) rotate(-38)" dy="0.36em" font-size="12" fill="#000" stroke="#fff" stroke-width="2.4" paint-order="stroke" stroke-linejoin="round">100.00</text>
<text transform="translate(730.35,72.67) rotate(-38)" dy="0.36em" font-size="12" fill="#000" stroke="#000" stroke-width="0.12">100.00</text>
<rect x="817" y="143.4" width="71.7" height="51.4" fill="#ffffff" fill-opacity="0.25"/>
<line x1="818" y1="151.3" x2="834.5" y2="151.3" stroke="#ff0000" stroke-width="1.6"/>
<circle cx="826.4" cy="151.3" r="2.7" fill="#ff0000"/>
<text x="838" y="153.9" font-size="9" fill="#ff0000">Red Range</text>
<line x1="818" y1="164.2" x2="834.5" y2="164.2" stroke="#00dd00" stroke-width="1.6"/>
<circle cx="826.4" cy="164.2" r="2.7" fill="#00dd00"/>
<text x="838" y="166.8" font-size="9" fill="#00dd00">Process Range</text>
<line x1="818" y1="177.2" x2="834.5" y2="177.2" stroke="#2222dd" stroke-width="1.6"/>
<circle cx="826.4" cy="177.2" r="2.7" fill="#2222dd"/>
<text x="838" y="179.8" font-size="9" fill="#2222dd">Goal</text>
<line x1="818" y1="190.2" x2="834.5" y2="190.2" stroke="#000000" stroke-width="1.6"/>
<circle cx="826.4" cy="190.2" r="2.7" fill="#000000"/>
<text x="838" y="192.8" font-size="9" fill="#000000">Actual</text>
<rect x="899" y="38" width="20" height="329" fill="#ffffff"/>
<defs><linearGradient id="navg" x1="0" y1="0" x2="1" y2="1"><stop offset="0" stop-color="#1a55c4"/><stop offset="1" stop-color="#0a8cff"/></linearGradient></defs>
<polygon points="5.20,193.00 12.40,186.00 15.00,188.40 10.70,193.00 15.00,197.60 12.40,200.00" fill="url(#navg)"/>
<polygon points="3.00,213.00 9.10,206.20 10.90,208.00 7.70,213.00 10.90,218.00 9.10,219.80" fill="url(#navg)"/>
<polygon points="8.90,213.00 15.00,206.20 16.80,208.00 13.60,213.00 16.80,218.00 15.00,219.80" fill="url(#navg)"/>
<polygon points="913.90,192.90 906.70,185.90 904.10,188.30 908.40,192.90 904.10,197.50 906.70,199.90" fill="url(#navg)"/>
<polygon points="909.70,212.80 903.60,206.00 901.80,207.80 905.00,212.80 901.80,217.80 903.60,219.60" fill="url(#navg)"/>
<polygon points="916.00,212.80 909.90,206.00 908.10,207.80 911.30,212.80 908.10,217.80 909.90,219.60" fill="url(#navg)"/>
</svg>
<div class="ct" style="left:6.5px;top:5px">Training Matrix (Supply & Logistics)</div>
<div class="ct" style="left:6.5px;top:21px">%</div>
<svg class="uparr" width="22" height="22" viewBox="0 0 22 22" style="position:absolute;left:790px;top:8px"><defs><linearGradient id="ag" x1="0" y1="0" x2="0" y2="1"><stop offset="0" stop-color="#8a8a8a"/><stop offset="1" stop-color="#000"/></linearGradient></defs><path d="M10.8,1.2 L20.3,10.7 L15.6,10.7 L15.6,20.3 L6,20.3 L6,10.7 L1.3,10.7 Z" fill="url(#ag)" stroke="#555" stroke-width="0.8"/></svg>
<div class="vbox" style="background:#33cc33;color:#111"><div>&nbsp;</div><div>90.00</div></div>
<div class="ft" style="left:9px;letter-spacing:0px">Comparative measurements</div>
<div class="fsep" style="left:156.3px"></div>
<div class="ft" style="left:168.5px;letter-spacing:0px">Hide Label</div>
<div class="fsep" style="left:231.5px"></div>
<div class="ft" style="left:243.2px;letter-spacing:0px">Accumulate values</div>
<div class="fsep" style="left:345.7px"></div>
<div class="ft" style="left:357.4px;letter-spacing:-0.1px">Show<span class=car></span></div>
<div class="fsep" style="left:403.8px"></div>
<div class="ft" style="left:415px;letter-spacing:0px">Period: Current year<span class=car></span></div>
<div class="fsep" style="left:531.9px"></div>
<div class="ft" style="left:543.6px;letter-spacing:-0.12px">Previous years<span class=car></span></div>
</div>
<div class="abs" style="left:20px;top:77px;width:225px;height:33px;border:4px solid #0049e0"></div>
<svg class="abs" style="left:245px;top:75px" width="145" height="30"><path d="M6.5,14.5 L26,4.6 L26,24.2 Z" fill="#0049e0"/><rect x="25" y="12.3" width="112.8" height="4" fill="#0049e0"/></svg>
</body></html>
